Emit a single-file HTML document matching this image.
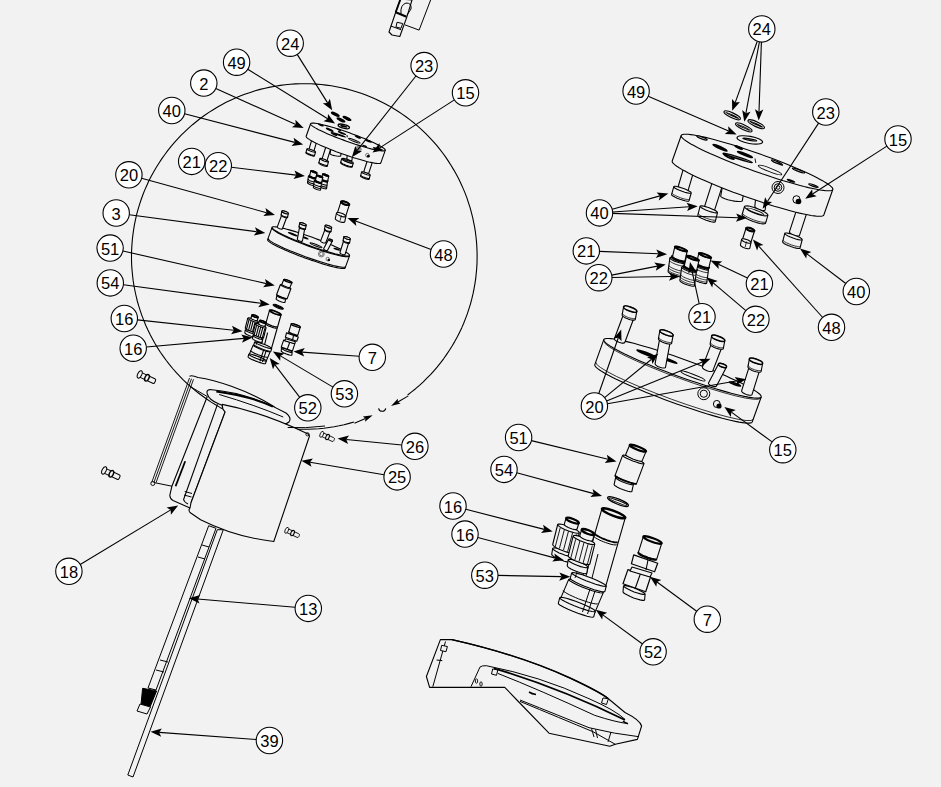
<!DOCTYPE html>
<html><head><meta charset="utf-8"><style>
html,body{margin:0;padding:0;background:#f2f2f2;}
svg{display:block;}
</style></head><body>
<svg width="941" height="787" viewBox="0 0 941 787">
<rect x="0" y="0" width="941" height="787" fill="#f2f2f2"/>
<polyline points="407.6,395 411.6,391.9 415.6,388.7 419.5,385.3 423.3,381.8 426.9,378.2 430.5,374.6 433.9,370.8 437.3,366.9 440.5,362.9 443.6,358.8 446.5,354.6 449.4,350.3 452.1,346 454.7,341.6 457.2,337.1 459.5,332.5 461.7,327.9 463.7,323.2 465.6,318.4 467.4,313.6 469,308.7 470.5,303.8 471.8,298.9 473,293.9 474,288.9 474.9,283.8 475.7,278.7 476.2,273.6 476.7,268.5 477,263.4 477.1,258.3 477.1,253.2 476.9,248 476.6,242.9 476.1,237.8 475.5,232.7 474.7,227.7 473.7,222.6 472.7,217.6 471.4,212.6 470.1,207.7 468.5,202.8 466.9,197.9 465.1,193.1 463.1,188.4 461,183.7 458.8,179.1 456.4,174.6 453.9,170.1 451.3,165.7 448.5,161.4 445.7,157.1 442.7,153 439.5,148.9 436.3,144.9 432.9,141.1 429.4,137.3 425.8,133.7 422.1,130.1 418.3,126.7 414.4,123.3 410.4,120.1 406.3,117 402.2,114.1 397.9,111.2 393.5,108.5 389.1,105.9 384.6,103.5 380,101.2 375.4,99 370.7,97 365.9,95.1 361.1,93.3 356.2,91.7 351.3,90.2 346.4,88.9 341.4,87.7 336.4,86.7 331.3,85.8 326.2,85.1 321.1,84.5 316,84.1 310.9,83.8 305.8,83.7 300.6,83.7 295.5,83.9 290.4,84.3 285.3,84.7 280.2,85.4 275.2,86.2 270.1,87.1 265.1,88.2 260.1,89.4 255.2,90.8 250.3,92.4 245.4,94 240.7,95.8 235.9,97.8 231.2,99.9 226.6,102.1 222.1,104.5 217.6,107 213.2,109.7 208.9,112.4 204.7,115.3 200.5,118.3 196.5,121.5 192.5,124.7 188.6,128.1 184.9,131.6 181.2,135.2 177.7,138.9 174.3,142.7 170.9,146.6 167.7,150.6 164.7,154.7 161.7,158.9 158.9,163.2 156.2,167.5 153.6,172 151.1,176.5 148.8,181.1 146.7,185.7 144.6,190.4 142.7,195.2 141,200 139.4,204.9 137.9,209.8 136.6,214.7 135.5,219.7 134.4,224.8 133.6,229.8 132.9,234.9 132.3,240 131.9,245.1 131.6,250.2 131.5,255.3 131.5,260.5 131.7,265.6 132.1,270.7 132.6,275.8 133.2,280.9 134,286 135,291 136.1,296 137.3,301 138.7,305.9 140.3,310.8 141.9,315.6 143.8,320.4 145.7,325.2 147.8,329.8 150.1,334.5 152.5,339 155,343.5 157.6,347.9 160.4,352.2 163.3,356.4 166.3,360.5 169.5,364.6 172.7,368.5 176.1,372.4 179.6,376.1 183.2,379.8 186.9,383.3 190.7,386.7 194.7,390.1 198.7,393.3 202.8,396.3 207,399.3 211.2,402.1 215.6,404.8 220,407.4 224.6,409.8 229.1,412.1 233.8,414.3 238.5,416.3 243.3,418.2 248.1,419.9 253,421.5 257.9,422.9 262.8,424.3 267.8,425.4 272.9,426.4 277.9,427.3 283,428 288.1,428.5 293.2,428.9 298.3,429.2 303.4,429.3 308.6,429.2 313.7,429 318.8,428.7 323.9,428.2 329,427.5 334.1,426.7 339.1,425.8 344.1,424.7 349.1,423.4 354,422" fill="none" stroke="#000" stroke-width="1.1" stroke-linejoin="round"/><line x1="408.3" y1="395.9" x2="397.9" y2="402" stroke="#000" stroke-width="1.1"/><polygon points="391,406 400.6,403.6 397.9,402 397.8,398.8" fill="#000"/><line x1="354.4" y1="423.3" x2="365.4" y2="418.5" stroke="#000" stroke-width="1.1"/><polygon points="372.7,415.3 362.9,416.5 365.4,418.5 365.1,421.7" fill="#000"/><path d="M378.6,408.3 A3.6,3.6 0 0 0 385.7,408.3" fill="none" stroke="#000" stroke-width="1.1"/>
<polygon points="400.5,-1 395.7,12.3 389,32 392,35 399.8,36.5 406.8,17.1 412,0" fill="#f2f2f2" stroke="#000" stroke-width="1.1" stroke-linejoin="round"/><line x1="395.7" y1="12.3" x2="406.5" y2="16.7" stroke="#000" stroke-width="2"/><line x1="400.5" y1="-1" x2="395.7" y2="12.3" stroke="#000" stroke-width="1.8"/><line x1="390.8" y1="26" x2="401.2" y2="29.8" stroke="#000" stroke-width="1"/><polygon points="397,22.3 402.7,23.5 401,28.3 396,27" fill="#f2f2f2" stroke="#000" stroke-width="1" stroke-linejoin="round"/><path d="M401,14 Q400,5 406,3 Q412,3 411,9 L407,15" fill="none" stroke="#000" stroke-width="1" stroke-linejoin="round"/><polyline points="405,24.9 419.1,30.1 431,-1" fill="none" stroke="#000" stroke-width="1" stroke-linejoin="round"/>
<polygon points="208.7,525.7 216,528.3 156,690 148,688" fill="#f2f2f2" stroke="#000" stroke-width="1" stroke-linejoin="round"/><polygon points="217.3,529.7 223.3,529.7 133,777 127.8,775" fill="#f2f2f2" stroke="#000" stroke-width="1" stroke-linejoin="round"/><polygon points="142.6,688.3 156.6,690.9 150,707 140.9,705.7" fill="#000" stroke="#000" stroke-width="1" stroke-linejoin="round"/><polygon points="140,704 150.5,707 147,714 137,711" fill="#f2f2f2" stroke="#000" stroke-width="1" stroke-linejoin="round"/><line x1="202" y1="545" x2="209" y2="547" stroke="#000" stroke-width="1"/><line x1="198" y1="557" x2="205" y2="559" stroke="#000" stroke-width="1"/><line x1="160" y1="660" x2="168" y2="662" stroke="#000" stroke-width="1"/><line x1="156" y1="670" x2="164" y2="672" stroke="#000" stroke-width="1"/>
<line x1="189.5" y1="378" x2="151.7" y2="482.5" stroke="#000" stroke-width="0.9"/><line x1="191.5" y1="378.7" x2="153.9" y2="482.5" stroke="#000" stroke-width="0.9"/><line x1="193.5" y1="379.3" x2="156.1" y2="482.5" stroke="#000" stroke-width="0.9"/><circle cx="152.8" cy="483.5" r="2" fill="none" stroke="#000" stroke-width="0.9"/><line x1="153.8" y1="482.5" x2="171.9" y2="486.2" stroke="#000" stroke-width="1"/><path d="M189.5,376.2 Q192,375 198,377.5 C215,380 245,389 273,406 L289,420" fill="none" stroke="#000" stroke-width="1.1" stroke-linejoin="round"/><path d="M189.5,386 Q196,390 207.3,396.5" fill="none" stroke="#000" stroke-width="1" stroke-linejoin="round"/><path d="M207.3,394 Q206,390 210,389.5 Q250,393 286,413 Q292,418 289,422 Q286,425 280,424 Q245,415 219,404 Q209,400 207.3,394 Z" fill="#f2f2f2" stroke="#000" stroke-width="1.1" stroke-linejoin="round"/><path d="M216.3,391.5 Q250,396 272.8,406.7" fill="none" stroke="#000" stroke-width="1.8" stroke-linejoin="round"/><path d="M219.2,394.5 Q255,405 283.2,417" fill="none" stroke="#000" stroke-width="1" stroke-linejoin="round"/><path d="M207.3,396.5 L171.9,486.2 L169.8,495.3 Q170,499 173,500.6 L190,508" fill="none" stroke="#000" stroke-width="1.1" stroke-linejoin="round"/><path d="M217.5,404.4 L183.6,499.5 Q184,502 188,504" fill="none" stroke="#000" stroke-width="1.1" stroke-linejoin="round"/><path d="M225.1,412 L191,502.7" fill="none" stroke="#000" stroke-width="1.1" stroke-linejoin="round"/><line x1="185.2" y1="461.3" x2="175.6" y2="486.2" stroke="#000" stroke-width="1.8"/><line x1="184.7" y1="491.5" x2="192" y2="493.5" stroke="#000" stroke-width="1"/><line x1="184" y1="495" x2="191.5" y2="497" stroke="#000" stroke-width="1"/><path d="M222.2,404.4 Q262,412 307,433.5 Q309,434 309.5,436 L273.8,541.5 Q235,537 200.6,519.7 L190,512.5 Q188,510 190,508 L191,502.7 L225.1,412 Q222,409 222.2,404.4 Z" fill="#f2f2f2" stroke="#000" stroke-width="1.1" stroke-linejoin="round"/><circle cx="307.5" cy="434.3" r="1.6" fill="none" stroke="#000" stroke-width="0.9"/><path d="M287.7,427.5 Q305,428.5 325,426" fill="none" stroke="#000" stroke-width="1" stroke-linejoin="round"/>
<g transform="translate(138.8 374) rotate(25) scale(1)"><rect x="0" y="-2.5" width="18" height="5" rx="1.5" fill="#f2f2f2" stroke="#000" stroke-width="1"/><ellipse cx="1" cy="0" rx="2" ry="4" fill="#f2f2f2" stroke="#000" stroke-width="1"/><ellipse cx="9" cy="0" rx="2" ry="3.5" fill="#f2f2f2" stroke="#000" stroke-width="1.4"/></g>
<g transform="translate(103.2 470) rotate(25) scale(1)"><rect x="0" y="-2.5" width="18" height="5" rx="1.5" fill="#f2f2f2" stroke="#000" stroke-width="1"/><ellipse cx="1" cy="0" rx="2" ry="4" fill="#f2f2f2" stroke="#000" stroke-width="1"/><ellipse cx="9" cy="0" rx="2" ry="3.5" fill="#f2f2f2" stroke="#000" stroke-width="1.4"/></g>
<g transform="translate(321 434) rotate(25) scale(0.8)"><rect x="0" y="-2.5" width="18" height="5" rx="1.5" fill="#f2f2f2" stroke="#000" stroke-width="1"/><ellipse cx="1" cy="0" rx="2" ry="4" fill="#f2f2f2" stroke="#000" stroke-width="1"/><ellipse cx="9" cy="0" rx="2" ry="3.5" fill="#f2f2f2" stroke="#000" stroke-width="1.4"/></g>
<g transform="translate(286 530) rotate(25) scale(0.8)"><rect x="0" y="-2.5" width="18" height="5" rx="1.5" fill="#f2f2f2" stroke="#000" stroke-width="1"/><ellipse cx="1" cy="0" rx="2" ry="4" fill="#f2f2f2" stroke="#000" stroke-width="1"/><ellipse cx="9" cy="0" rx="2" ry="3.5" fill="#f2f2f2" stroke="#000" stroke-width="1.4"/></g>
<polygon points="683.3,169.2 683.7,168.7 684.6,168.4 685.8,168.4 687.3,168.6 688.9,169.1 690.4,169.7 691.7,170.5 692.7,171.3 693.2,172.1 693.3,172.8 687.9,191.1 687.5,191.6 686.6,191.9 685.4,191.9 683.9,191.7 682.3,191.2 680.8,190.6 679.5,189.8 678.5,189 678,188.2 677.9,187.5" fill="#f2f2f2" stroke="#000" stroke-width="1.1" stroke-linejoin="round" /><polygon points="673.8,186.6 674.3,186.3 675.7,186.3 677.7,186.7 680.2,187.4 682.9,188.3 685.6,189.3 688,190.4 689.8,191.4 691,192.3 691.2,193 689,200.9 688.5,201.2 687.1,201.2 685.1,200.8 682.6,200.1 679.9,199.2 677.2,198.2 674.8,197.1 673,196.1 671.8,195.2 671.6,194.5" fill="#f2f2f2" stroke="#000" stroke-width="1.1" stroke-linejoin="round" /><polyline points="691.2,193 690.7,193.3 689.3,193.3 687.3,192.9 684.8,192.2 682.1,191.3 679.4,190.3 677,189.2 675.2,188.2 674,187.3 673.8,186.6" fill="none" stroke="#000" stroke-width="1.1"/><polyline points="689.5,199.3 689.2,199.5 688.7,199.6 687.8,199.6 686.6,199.4 685.2,199.2 683.7,198.8 682,198.3 680.3,197.7 678.6,197 677,196.3 675.5,195.6 674.3,195 673.2,194.4 672.5,193.8 672.1,193.3 672,193" fill="none" stroke="#000" stroke-width="0.8" stroke-linejoin="round"/><polygon points="712.3,182.2 712.7,181.7 713.6,181.4 714.9,181.4 716.3,181.6 717.9,182.1 719.4,182.7 720.7,183.5 721.7,184.3 722.2,185.1 722.3,185.8 714.5,210.3 714.1,210.8 713.2,211.1 711.9,211.1 710.5,210.9 708.9,210.4 707.4,209.8 706.1,209 705.1,208.2 704.6,207.4 704.5,206.7" fill="#f2f2f2" stroke="#000" stroke-width="1.1" stroke-linejoin="round" /><polygon points="700.1,206.2 700.6,205.9 702,205.9 704,206.3 706.5,206.9 709.2,207.8 711.9,208.9 714.3,210 716.1,211 717.2,211.9 717.5,212.6 715.2,221.8 714.7,222.1 713.3,222.1 711.3,221.7 708.8,221.1 706.1,220.2 703.4,219.1 701,218 699.2,217 698.1,216.1 697.8,215.4" fill="#f2f2f2" stroke="#000" stroke-width="1.1" stroke-linejoin="round" /><polyline points="717.5,212.6 717,212.9 715.6,212.9 713.6,212.5 711.1,211.9 708.4,211 705.7,209.9 703.3,208.8 701.5,207.8 700.4,206.9 700.1,206.2" fill="none" stroke="#000" stroke-width="1.1"/><polyline points="715.7,219.9 715.5,220.2 714.9,220.3 714,220.2 712.9,220.1 711.5,219.8 709.9,219.4 708.3,218.9 706.6,218.3 704.9,217.7 703.3,217 701.8,216.3 700.5,215.6 699.5,215 698.7,214.4 698.3,214 698.2,213.6" fill="none" stroke="#000" stroke-width="0.8" stroke-linejoin="round"/><polygon points="796.5,210.2 796.9,209.7 797.8,209.4 799.1,209.4 800.5,209.6 802.1,210.1 803.6,210.7 804.9,211.5 805.9,212.3 806.4,213.1 806.5,213.8 799.5,235.3 799.1,235.8 798.2,236.1 796.9,236.1 795.5,235.9 793.9,235.4 792.4,234.8 791.1,234 790.1,233.2 789.6,232.4 789.5,231.7" fill="#f2f2f2" stroke="#000" stroke-width="1.1" stroke-linejoin="round" /><polygon points="784.8,233.3 785.3,233 786.7,233 788.7,233.4 791.2,234 793.9,234.9 796.6,236 799,237.1 800.8,238.1 801.9,239 802.2,239.7 800,248.2 799.5,248.5 798.1,248.5 796.1,248.1 793.6,247.5 790.9,246.6 788.2,245.5 785.8,244.4 784,243.4 782.9,242.5 782.6,241.8" fill="#f2f2f2" stroke="#000" stroke-width="1.1" stroke-linejoin="round" /><polyline points="802.2,239.7 801.7,240 800.3,240 798.3,239.6 795.8,239 793.1,238.1 790.4,237 788,235.9 786.2,234.9 785.1,234 784.8,233.3" fill="none" stroke="#000" stroke-width="1.1"/><polyline points="800.5,246.5 800.2,246.7 799.7,246.8 798.8,246.8 797.6,246.6 796.3,246.3 794.7,245.9 793.1,245.4 791.3,244.9 789.6,244.2 788,243.5 786.5,242.8 785.3,242.2 784.2,241.5 783.5,241 783.1,240.5 783,240.1" fill="none" stroke="#000" stroke-width="0.8" stroke-linejoin="round"/><polygon points="722.2,187.7 722.9,187.2 724.5,187 727,187.1 730,187.4 733.3,188 736.7,188.8 739.6,189.7 741.9,190.7 743.3,191.6 743.8,192.3 742.3,200.8 741.6,201.3 740,201.5 737.5,201.4 734.5,201.1 731.2,200.5 727.8,199.7 724.9,198.8 722.6,197.8 721.2,196.9 720.7,196.2" fill="#f2f2f2" stroke="#000" stroke-width="1.1" stroke-linejoin="round" /><polygon points="755.8,197.3 756.1,196.8 756.9,196.5 758.1,196.5 759.6,196.7 761.2,197.2 762.8,197.8 764.2,198.5 765.3,199.3 766,200.1 766.2,200.7 765.2,209.7 764.9,210.2 764.1,210.5 762.9,210.5 761.4,210.3 759.8,209.8 758.2,209.2 756.8,208.5 755.7,207.7 755,206.9 754.8,206.3" fill="#f2f2f2" stroke="#000" stroke-width="1.1" stroke-linejoin="round" /><polygon points="744.5,206.5 745.3,206 747.2,205.9 749.9,206.3 753.3,207.2 756.9,208.4 760.5,209.9 763.7,211.4 766.1,213 767.6,214.3 767.9,215.3 765.5,223.3 764.7,223.8 762.8,223.9 760.1,223.5 756.7,222.6 753.1,221.4 749.5,219.9 746.3,218.4 743.9,216.8 742.4,215.5 742.1,214.5" fill="#f2f2f2" stroke="#000" stroke-width="1.1" stroke-linejoin="round" /><polyline points="767.9,215.3 767.1,215.8 765.2,215.9 762.5,215.5 759.1,214.6 755.5,213.4 751.9,211.9 748.7,210.4 746.3,208.8 744.8,207.5 744.5,206.5" fill="none" stroke="#000" stroke-width="1.1"/><polyline points="766,221.7 765.6,222.1 764.8,222.3 763.6,222.3 762,222.2 760.2,221.8 758.1,221.3 755.8,220.6 753.5,219.8 751.3,218.9 749.1,217.9 747.2,217 745.5,216 744.1,215.1 743.2,214.2 742.6,213.5 742.6,212.9" fill="none" stroke="#000" stroke-width="0.8" stroke-linejoin="round"/><ellipse cx="755.5" cy="211.5" rx="9" ry="1.3" transform="rotate(20.6 755.5 211.5)" fill="#f2f2f2" stroke="#000" stroke-width="0.9"/><polygon points="681.2,135.5 681.6,134.9 682.6,134.5 684,134.3 685.8,134.2 688.1,134.3 690.8,134.6 693.9,135 697.4,135.7 701.3,136.5 705.5,137.4 710,138.5 714.8,139.8 719.9,141.2 725.2,142.7 730.7,144.3 736.4,146.1 742.2,147.9 748.1,149.9 754,151.9 760,154 765.9,156.2 771.8,158.3 777.6,160.6 783.3,162.8 788.8,165 794.1,167.2 799.2,169.4 804,171.5 808.5,173.6 812.7,175.6 816.6,177.5 820.1,179.4 823.2,181.1 825.9,182.7 828.2,184.2 830.1,185.6 831.4,186.8 832.4,187.8 832.8,188.8 832.8,189.5 823.8,215 823.4,215.6 822.4,216 821,216.2 819.2,216.3 816.9,216.2 814.2,215.9 811.1,215.5 807.6,214.8 803.7,214 799.5,213.1 795,212 790.2,210.7 785.1,209.3 779.8,207.8 774.3,206.2 768.6,204.4 762.8,202.6 756.9,200.6 751,198.6 745,196.5 739.1,194.3 733.2,192.2 727.4,189.9 721.7,187.7 716.2,185.5 710.9,183.3 705.8,181.1 701,179 696.5,176.9 692.3,174.9 688.4,173 684.9,171.1 681.8,169.4 679.1,167.8 676.8,166.3 674.9,164.9 673.6,163.7 672.6,162.7 672.2,161.7 672.2,161" fill="#f2f2f2" stroke="#000" stroke-width="1.1" stroke-linejoin="round" /><polyline points="832.8,189.5 832.4,190.1 831.4,190.5 830,190.7 828.2,190.8 825.9,190.7 823.2,190.4 820.1,190 816.6,189.3 812.7,188.5 808.5,187.6 804,186.5 799.2,185.2 794.1,183.8 788.8,182.3 783.3,180.7 777.6,178.9 771.8,177.1 765.9,175.1 760,173.1 754,171 748.1,168.8 742.2,166.7 736.4,164.4 730.7,162.2 725.2,160 719.9,157.8 714.8,155.6 710,153.5 705.5,151.4 701.3,149.4 697.4,147.5 693.9,145.6 690.8,143.9 688.1,142.3 685.8,140.8 683.9,139.4 682.6,138.2 681.6,137.2 681.2,136.2 681.2,135.5" fill="none" stroke="#000" stroke-width="1.1"/><ellipse cx="702" cy="138" rx="5.5" ry="0.9" transform="rotate(20 702 138)" fill="#f2f2f2" stroke="#000" stroke-width="1.3"/><ellipse cx="720" cy="147.7" rx="7.5" ry="0.9" transform="rotate(25 720 147.7)" fill="#f2f2f2" stroke="#000" stroke-width="1.8"/><ellipse cx="728.6" cy="156.3" rx="6" ry="1" transform="rotate(28 728.6 156.3)" fill="#f2f2f2" stroke="#000" stroke-width="1.8"/><ellipse cx="738.6" cy="147.5" rx="4" ry="0.7" transform="rotate(25 738.6 147.5)" fill="#f2f2f2" stroke="#000" stroke-width="1.5"/><ellipse cx="745" cy="154.5" rx="8" ry="0.8" transform="rotate(22 745 154.5)" fill="#f2f2f2" stroke="#000" stroke-width="1.7"/><ellipse cx="739" cy="158.2" rx="14" ry="0.9" transform="rotate(18 739 158.2)" fill="#f2f2f2" stroke="#000" stroke-width="1.5"/><ellipse cx="777" cy="162.4" rx="6" ry="0.9" transform="rotate(24 777 162.4)" fill="#f2f2f2" stroke="#000" stroke-width="1.4"/><ellipse cx="770" cy="170" rx="12.5" ry="1.8" transform="rotate(21 770 170)" fill="#f2f2f2" stroke="#000" stroke-width="0.9"/><ellipse cx="798.5" cy="170.5" rx="6.5" ry="0.9" transform="rotate(20 798.5 170.5)" fill="#f2f2f2" stroke="#000" stroke-width="1.3"/><ellipse cx="791" cy="180.8" rx="4" ry="0.6" transform="rotate(20 791 180.8)" fill="#f2f2f2" stroke="#000" stroke-width="1.2"/><ellipse cx="813.4" cy="185.6" rx="5" ry="0.8" transform="rotate(20 813.4 185.6)" fill="#f2f2f2" stroke="#000" stroke-width="1.2"/><line x1="755" y1="158.5" x2="755.8" y2="163" stroke="#000" stroke-width="0.9"/><circle cx="778" cy="187.5" r="6" fill="none" stroke="#000" stroke-width="1"/><circle cx="778" cy="187.5" r="3.8" fill="none" stroke="#000" stroke-width="1"/><circle cx="778" cy="187.5" r="1.8" fill="none" stroke="#000" stroke-width="0.9"/><ellipse cx="796.5" cy="199.5" rx="3.6" ry="3.8" fill="none" stroke="#000" stroke-width="1"/><circle cx="798.5" cy="201.5" r="2.8" fill="#000"/>
<ellipse cx="732.2" cy="115.3" rx="9" ry="2.4" transform="rotate(25 732.2 115.3)" fill="#f2f2f2" stroke="#000" stroke-width="1.2"/><ellipse cx="732.2" cy="115.3" rx="7.2" ry="0.5" transform="rotate(25 732.2 115.3)" fill="#f2f2f2" stroke="#000" stroke-width="0.9"/><ellipse cx="743.8" cy="127.4" rx="9" ry="2.4" transform="rotate(25 743.8 127.4)" fill="#f2f2f2" stroke="#000" stroke-width="1.2"/><ellipse cx="743.8" cy="127.4" rx="7.2" ry="0.5" transform="rotate(25 743.8 127.4)" fill="#f2f2f2" stroke="#000" stroke-width="0.9"/><ellipse cx="756.2" cy="124.2" rx="9" ry="2.4" transform="rotate(25 756.2 124.2)" fill="#f2f2f2" stroke="#000" stroke-width="1.2"/><ellipse cx="756.2" cy="124.2" rx="7.2" ry="0.5" transform="rotate(25 756.2 124.2)" fill="#f2f2f2" stroke="#000" stroke-width="0.9"/><ellipse cx="749.8" cy="139.9" rx="13" ry="3.6" transform="rotate(10 749.8 139.9)" fill="#f2f2f2" stroke="#000" stroke-width="1.1"/><ellipse cx="749.8" cy="139.6" rx="7" ry="0.7" transform="rotate(10 749.8 139.6)" fill="#f2f2f2" stroke="#000" stroke-width="1.3"/>
<polygon points="669.9,257.9 670.3,257.5 671.4,257.4 673.1,257.7 675.1,258.2 677.4,258.9 679.7,259.8 681.7,260.7 683.3,261.6 684.3,262.5 684.5,263.1 682.7,276.6 682.3,277 681.2,277.1 679.5,276.8 677.5,276.3 675.2,275.6 672.9,274.7 670.9,273.8 669.3,272.9 668.3,272 668.1,271.4" fill="#f2f2f2" stroke="#000" stroke-width="1.1" stroke-linejoin="round" /><polyline points="684.5,263.1 684.1,263.5 683,263.6 681.3,263.3 679.3,262.8 677,262.1 674.7,261.2 672.7,260.3 671.1,259.4 670.1,258.5 669.9,257.9" fill="none" stroke="#000" stroke-width="1.1"/><polyline points="684.2,265.6 684,265.9 683.6,266 682.9,266.1 681.9,266 680.8,265.8 679.5,265.5 678.1,265.1 676.7,264.6 675.2,264.1 673.9,263.5 672.6,262.9 671.5,262.3 670.6,261.7 670,261.2 669.6,260.8 669.5,260.4" fill="none" stroke="#000" stroke-width="0.8" stroke-linejoin="round"/><polyline points="683.5,270.6 683.4,270.9 682.9,271 682.2,271.1 681.2,271 680.1,270.8 678.8,270.5 677.4,270.1 676,269.6 674.6,269.1 673.2,268.5 671.9,267.9 670.9,267.3 670,266.7 669.3,266.2 669,265.8 668.9,265.4" fill="none" stroke="#000" stroke-width="0.8" stroke-linejoin="round"/><polyline points="683.2,272.9 683.1,273.2 682.6,273.3 681.9,273.4 680.9,273.3 679.8,273.1 678.5,272.8 677.1,272.4 675.7,271.9 674.2,271.4 672.9,270.8 671.6,270.2 670.5,269.6 669.7,269 669,268.5 668.6,268.1 668.5,267.7" fill="none" stroke="#000" stroke-width="0.8" stroke-linejoin="round"/><polyline points="682.9,275.1 682.8,275.4 682.3,275.5 681.6,275.6 680.6,275.5 679.5,275.3 678.2,275 676.8,274.6 675.4,274.1 674,273.6 672.6,273 671.3,272.4 670.3,271.8 669.4,271.2 668.7,270.7 668.4,270.3 668.3,269.9" fill="none" stroke="#000" stroke-width="0.8" stroke-linejoin="round"/><polygon points="671.6,255.8 672.1,255.5 673.3,255.5 674.9,255.8 676.9,256.3 679.1,257 681.2,257.8 683.1,258.7 684.5,259.6 685.4,260.3 685.6,260.8 685,262.4 684.5,262.7 683.3,262.7 681.7,262.4 679.7,261.9 677.5,261.2 675.4,260.4 673.5,259.5 672.1,258.6 671.2,257.9 671,257.4" fill="#000" stroke="#000" stroke-width="1" stroke-linejoin="round" /><polyline points="685.6,260.8 685.1,261.1 683.9,261.1 682.3,260.8 680.3,260.3 678.1,259.6 676,258.8 674.1,257.9 672.7,257 671.8,256.3 671.6,255.8" fill="none" stroke="#000" stroke-width="1"/><polygon points="674.8,246.8 675.2,246.5 676.1,246.4 677.6,246.7 679.4,247.1 681.3,247.7 683.2,248.5 684.9,249.3 686.2,250.1 687,250.7 687.2,251.2 685,260.7 684.6,261 683.7,261.1 682.2,260.8 680.4,260.4 678.5,259.8 676.6,259 674.9,258.2 673.6,257.4 672.8,256.8 672.6,256.3" fill="#f2f2f2" stroke="#000" stroke-width="1.1" stroke-linejoin="round" /><polyline points="687.2,251.2 686.8,251.5 685.9,251.6 684.4,251.3 682.6,250.9 680.7,250.3 678.8,249.5 677.1,248.7 675.8,247.9 675,247.3 674.8,246.8" fill="none" stroke="#000" stroke-width="1.1"/><ellipse cx="681" cy="249" rx="6.6" ry="1.1" transform="rotate(20 681 249)" fill="#f2f2f2" stroke="#000" stroke-width="1.9"/><polygon points="693.9,264.4 694.3,264 695.4,263.9 697.1,264.2 699.1,264.7 701.4,265.4 703.7,266.3 705.7,267.2 707.3,268.1 708.3,269 708.5,269.6 706.7,283.1 706.3,283.5 705.2,283.6 703.5,283.3 701.5,282.8 699.2,282.1 696.9,281.2 694.9,280.3 693.3,279.4 692.3,278.5 692.1,277.9" fill="#f2f2f2" stroke="#000" stroke-width="1.1" stroke-linejoin="round" /><polyline points="708.5,269.6 708.1,270 707,270.1 705.3,269.8 703.3,269.3 701,268.6 698.7,267.7 696.7,266.8 695.1,265.9 694.1,265 693.9,264.4" fill="none" stroke="#000" stroke-width="1.1"/><polyline points="708.2,272.1 708,272.4 707.6,272.5 706.9,272.6 705.9,272.5 704.8,272.3 703.5,272 702.1,271.6 700.7,271.1 699.2,270.6 697.9,270 696.6,269.4 695.5,268.8 694.6,268.2 694,267.7 693.6,267.3 693.5,266.9" fill="none" stroke="#000" stroke-width="0.8" stroke-linejoin="round"/><polyline points="707.5,277.1 707.4,277.4 706.9,277.5 706.2,277.6 705.2,277.5 704.1,277.3 702.8,277 701.4,276.6 700,276.1 698.6,275.6 697.2,275 695.9,274.4 694.9,273.8 694,273.2 693.3,272.7 693,272.3 692.9,271.9" fill="none" stroke="#000" stroke-width="0.8" stroke-linejoin="round"/><polyline points="707.2,279.4 707.1,279.7 706.6,279.8 705.9,279.9 704.9,279.8 703.8,279.6 702.5,279.3 701.1,278.9 699.7,278.4 698.2,277.9 696.9,277.3 695.6,276.7 694.5,276.1 693.7,275.5 693,275 692.6,274.6 692.5,274.2" fill="none" stroke="#000" stroke-width="0.8" stroke-linejoin="round"/><polyline points="706.9,281.6 706.8,281.9 706.3,282 705.6,282.1 704.6,282 703.5,281.8 702.2,281.5 700.8,281.1 699.4,280.6 698,280.1 696.6,279.5 695.3,278.9 694.3,278.3 693.4,277.7 692.7,277.2 692.4,276.8 692.3,276.4" fill="none" stroke="#000" stroke-width="0.8" stroke-linejoin="round"/><polygon points="695.6,262.3 696.1,262 697.3,262 698.9,262.3 700.9,262.8 703.1,263.5 705.2,264.3 707.1,265.2 708.5,266.1 709.4,266.8 709.6,267.3 709,268.9 708.5,269.2 707.3,269.2 705.7,268.9 703.7,268.4 701.5,267.7 699.4,266.9 697.5,266 696.1,265.1 695.2,264.4 695,263.9" fill="#000" stroke="#000" stroke-width="1" stroke-linejoin="round" /><polyline points="709.6,267.3 709.1,267.6 707.9,267.6 706.3,267.3 704.3,266.8 702.1,266.1 700,265.3 698.1,264.4 696.7,263.5 695.8,262.8 695.6,262.3" fill="none" stroke="#000" stroke-width="1"/><polygon points="698.8,253.3 699.2,253 700.1,252.9 701.6,253.2 703.4,253.6 705.3,254.2 707.2,255 708.9,255.8 710.2,256.6 711,257.2 711.2,257.7 709,267.2 708.6,267.5 707.7,267.6 706.2,267.3 704.4,266.9 702.5,266.3 700.6,265.5 698.9,264.7 697.6,263.9 696.8,263.3 696.6,262.8" fill="#f2f2f2" stroke="#000" stroke-width="1.1" stroke-linejoin="round" /><polyline points="711.2,257.7 710.8,258 709.9,258.1 708.4,257.8 706.6,257.4 704.7,256.8 702.8,256 701.1,255.2 699.8,254.4 699,253.8 698.8,253.3" fill="none" stroke="#000" stroke-width="1.1"/><ellipse cx="705" cy="255.5" rx="6.6" ry="1.1" transform="rotate(20 705 255.5)" fill="#f2f2f2" stroke="#000" stroke-width="1.9"/><polygon points="681.7,267.1 682.1,266.7 683.2,266.6 684.9,266.9 686.9,267.4 689.2,268.1 691.5,269 693.5,269.9 695.1,270.8 696.1,271.7 696.3,272.3 694.5,285.8 694.1,286.2 693,286.3 691.3,286 689.3,285.5 687,284.8 684.7,283.9 682.7,283 681.1,282.1 680.1,281.2 679.9,280.6" fill="#f2f2f2" stroke="#000" stroke-width="1.1" stroke-linejoin="round" /><polyline points="696.3,272.3 695.9,272.7 694.8,272.8 693.1,272.5 691.1,272 688.8,271.3 686.5,270.4 684.5,269.5 682.9,268.6 681.9,267.7 681.7,267.1" fill="none" stroke="#000" stroke-width="1.1"/><polyline points="696,274.8 695.8,275.1 695.4,275.2 694.7,275.3 693.7,275.2 692.6,275 691.3,274.7 689.9,274.3 688.5,273.8 687,273.3 685.7,272.7 684.4,272.1 683.3,271.5 682.4,270.9 681.8,270.4 681.4,270 681.3,269.6" fill="none" stroke="#000" stroke-width="0.8" stroke-linejoin="round"/><polyline points="695.3,279.8 695.2,280.1 694.7,280.2 694,280.3 693,280.2 691.9,280 690.6,279.7 689.2,279.3 687.8,278.8 686.4,278.3 685,277.7 683.7,277.1 682.7,276.5 681.8,275.9 681.1,275.4 680.8,275 680.7,274.6" fill="none" stroke="#000" stroke-width="0.8" stroke-linejoin="round"/><polyline points="695,282.1 694.9,282.4 694.4,282.5 693.7,282.6 692.7,282.5 691.6,282.3 690.3,282 688.9,281.6 687.5,281.1 686,280.6 684.7,280 683.4,279.4 682.3,278.8 681.5,278.2 680.8,277.7 680.4,277.3 680.3,276.9" fill="none" stroke="#000" stroke-width="0.8" stroke-linejoin="round"/><polyline points="694.7,284.3 694.6,284.6 694.1,284.7 693.4,284.8 692.4,284.7 691.3,284.5 690,284.2 688.6,283.8 687.2,283.3 685.8,282.8 684.4,282.2 683.1,281.6 682.1,281 681.2,280.4 680.5,279.9 680.2,279.5 680.1,279.1" fill="none" stroke="#000" stroke-width="0.8" stroke-linejoin="round"/><polygon points="683.4,265 683.9,264.7 685.1,264.7 686.7,265 688.7,265.5 690.9,266.2 693,267 694.9,267.9 696.3,268.8 697.2,269.5 697.4,270 696.8,271.6 696.3,271.9 695.1,271.9 693.5,271.6 691.5,271.1 689.3,270.4 687.2,269.6 685.3,268.7 683.9,267.8 683,267.1 682.8,266.6" fill="#000" stroke="#000" stroke-width="1" stroke-linejoin="round" /><polyline points="697.4,270 696.9,270.3 695.7,270.3 694.1,270 692.1,269.5 689.9,268.8 687.8,268 685.9,267.1 684.5,266.2 683.6,265.5 683.4,265" fill="none" stroke="#000" stroke-width="1"/><polygon points="686.6,256 687,255.7 687.9,255.6 689.4,255.9 691.2,256.3 693.1,256.9 695,257.7 696.7,258.5 698,259.3 698.8,259.9 699,260.4 696.8,269.9 696.4,270.2 695.5,270.3 694,270 692.2,269.6 690.3,269 688.4,268.2 686.7,267.4 685.4,266.6 684.6,266 684.4,265.5" fill="#f2f2f2" stroke="#000" stroke-width="1.1" stroke-linejoin="round" /><polyline points="699,260.4 698.6,260.7 697.7,260.8 696.2,260.5 694.4,260.1 692.5,259.5 690.6,258.7 688.9,257.9 687.6,257.1 686.8,256.5 686.6,256" fill="none" stroke="#000" stroke-width="1.1"/><ellipse cx="692.8" cy="258.2" rx="6.6" ry="1.1" transform="rotate(20 692.8 258.2)" fill="#f2f2f2" stroke="#000" stroke-width="1.9"/>
<polygon points="603.8,339.6 604.2,339.1 605.2,338.7 606.6,338.5 608.5,338.5 610.9,338.6 613.7,339 616.9,339.5 620.6,340.2 624.6,341.1 628.9,342.1 633.7,343.3 638.7,344.7 643.9,346.2 649.4,347.8 655.1,349.6 661,351.5 667,353.5 673.2,355.5 679.3,357.7 685.5,359.9 691.7,362.2 697.8,364.5 703.8,366.8 709.7,369.2 715.4,371.5 720.9,373.8 726.2,376.1 731.2,378.4 735.9,380.5 740.3,382.6 744.3,384.7 748,386.6 751.2,388.4 754,390 756.4,391.6 758.3,393 759.8,394.2 760.7,395.3 761.2,396.2 761.2,397 752.2,422 751.8,422.5 750.8,422.9 749.4,423.1 747.5,423.1 745.1,423 742.3,422.6 739.1,422.1 735.4,421.4 731.4,420.5 727.1,419.5 722.3,418.3 717.3,416.9 712.1,415.4 706.6,413.8 700.9,412 695,410.1 689,408.1 682.8,406.1 676.7,403.9 670.5,401.7 664.3,399.4 658.2,397.1 652.2,394.8 646.3,392.4 640.6,390.1 635.1,387.8 629.8,385.5 624.8,383.2 620.1,381.1 615.7,379 611.7,376.9 608,375 604.8,373.2 602,371.6 599.6,370 597.7,368.6 596.2,367.4 595.3,366.3 594.8,365.4 594.8,364.6" fill="#f2f2f2" stroke="#000" stroke-width="1.1" stroke-linejoin="round" /><polyline points="761.2,397 760.8,397.5 759.8,397.9 758.4,398.1 756.5,398.1 754.1,398 751.3,397.6 748.1,397.1 744.4,396.4 740.4,395.5 736.1,394.5 731.3,393.3 726.3,391.9 721.1,390.4 715.6,388.8 709.9,387 704,385.1 698,383.1 691.8,381.1 685.7,378.9 679.5,376.7 673.3,374.4 667.2,372.1 661.2,369.8 655.3,367.4 649.6,365.1 644.1,362.8 638.8,360.5 633.8,358.2 629.1,356.1 624.7,354 620.7,351.9 617,350 613.8,348.2 611,346.6 608.6,345 606.7,343.6 605.2,342.4 604.3,341.3 603.8,340.4 603.8,339.6" fill="none" stroke="#000" stroke-width="1.1"/><polyline points="753.1,419.5 751,420.5 746,420.5 738.2,419.3 728,417 715.6,413.7 701.8,409.5 686.8,404.6 671.4,399.2 656.1,393.4 641.5,387.6 628.1,381.8 616.6,376.5 607.2,371.6 600.5,367.5 596.6,364.3 595.7,362.1" fill="none" stroke="#000" stroke-width="0.8" stroke-linejoin="round"/><polyline points="760.3,398.2 758.2,399.3 753.2,399.2 745.5,398.1 735.3,395.8 723.1,392.5 709.4,388.4 694.6,383.6 679.3,378.2 664.1,372.5 649.7,366.7 636.5,361 625,355.7 615.8,350.9 609.1,346.8 605.2,343.6 604.3,341.4" fill="none" stroke="#000" stroke-width="0.8" stroke-linejoin="round"/><ellipse cx="646" cy="353.5" rx="9.5" ry="0.8" transform="rotate(21 646 353.5)" fill="#f2f2f2" stroke="#000" stroke-width="2"/><ellipse cx="668.5" cy="360" rx="9" ry="0.8" transform="rotate(21 668.5 360)" fill="#f2f2f2" stroke="#000" stroke-width="1.6"/><ellipse cx="693" cy="376" rx="13" ry="1.6" transform="rotate(21 693 376)" fill="#f2f2f2" stroke="#000" stroke-width="1"/><ellipse cx="735" cy="384" rx="6" ry="0.8" transform="rotate(20 735 384)" fill="#f2f2f2" stroke="#000" stroke-width="1.4"/><polygon points="623.5,314.2 624,313.8 624.9,313.6 626.2,313.6 627.7,313.9 629.3,314.4 630.9,315.1 632.2,315.8 633.2,316.6 633.8,317.4 633.9,318 624.8,342.5 624.3,342.9 623.4,343.1 622.1,343.1 620.6,342.8 619,342.3 617.4,341.6 616.1,340.9 615.1,340.1 614.5,339.3 614.4,338.7" fill="#f2f2f2" stroke="#000" stroke-width="1.1" stroke-linejoin="round" /><polygon points="623.6,306.8 624,306.3 625.1,306.1 626.6,306.1 628.5,306.5 630.6,307.1 632.6,307.9 634.4,308.8 635.8,309.8 636.6,310.7 636.8,311.4 635.3,319.4 634.9,319.9 633.8,320.1 632.3,320.1 630.4,319.7 628.3,319.1 626.3,318.3 624.5,317.4 623.1,316.4 622.3,315.5 622.1,314.8" fill="#f2f2f2" stroke="#000" stroke-width="1.1" stroke-linejoin="round" /><polyline points="636.8,311.4 636.4,311.9 635.3,312.1 633.8,312.1 631.9,311.7 629.8,311.1 627.8,310.3 626,309.4 624.6,308.4 623.8,307.5 623.6,306.8" fill="none" stroke="#000" stroke-width="1.1"/><ellipse cx="630.2" cy="309.1" rx="7" ry="2" transform="rotate(20 630.2 309.1)" fill="#f2f2f2" stroke="#000" stroke-width="1.5"/><polyline points="635.6,317.9 635.4,318.2 635,318.5 634.3,318.6 633.4,318.6 632.4,318.5 631.2,318.3 629.9,318 628.6,317.6 627.3,317.1 626.1,316.6 625,316 624.1,315.4 623.3,314.8 622.8,314.2 622.5,313.7 622.4,313.3" fill="none" stroke="#000" stroke-width="0.8" stroke-linejoin="round"/><polygon points="659.8,338.2 660.2,337.7 661,337.5 662.2,337.5 663.7,337.7 665.3,338.2 666.9,338.8 668.3,339.6 669.4,340.4 670,341.1 670.2,341.8 665.5,367.3 665.1,367.8 664.3,368 663.1,368 661.6,367.8 660,367.3 658.4,366.7 657,365.9 655.9,365.1 655.3,364.4 655.1,363.7" fill="#f2f2f2" stroke="#000" stroke-width="1.1" stroke-linejoin="round" /><polygon points="659.9,330.7 660.3,330.2 661.4,330 662.9,330 664.8,330.4 666.9,331 668.9,331.8 670.7,332.7 672.1,333.7 672.9,334.6 673.1,335.3 671.6,343.3 671.2,343.8 670.1,344 668.6,344 666.7,343.6 664.6,343 662.6,342.2 660.8,341.3 659.4,340.3 658.6,339.4 658.4,338.7" fill="#f2f2f2" stroke="#000" stroke-width="1.1" stroke-linejoin="round" /><polyline points="673.1,335.3 672.7,335.8 671.6,336 670.1,336 668.2,335.6 666.1,335 664.1,334.2 662.3,333.3 660.9,332.3 660.1,331.4 659.9,330.7" fill="none" stroke="#000" stroke-width="1.1"/><ellipse cx="666.5" cy="333" rx="7" ry="2" transform="rotate(20 666.5 333)" fill="#f2f2f2" stroke="#000" stroke-width="1.5"/><polyline points="671.9,341.8 671.7,342.1 671.3,342.4 670.6,342.5 669.7,342.5 668.7,342.4 667.5,342.2 666.2,341.9 664.9,341.5 663.6,341 662.4,340.5 661.3,339.9 660.4,339.3 659.6,338.7 659.1,338.1 658.8,337.6 658.7,337.2" fill="none" stroke="#000" stroke-width="0.8" stroke-linejoin="round"/><polygon points="711.5,343.4 712,343 712.9,342.8 714.2,342.8 715.7,343.1 717.3,343.6 718.9,344.3 720.3,345.1 721.3,345.8 721.8,346.6 721.9,347.2 712.8,370.9 712.3,371.3 711.4,371.5 710.1,371.5 708.6,371.2 707,370.7 705.4,370 704,369.2 703,368.5 702.5,367.7 702.4,367.1" fill="#f2f2f2" stroke="#000" stroke-width="1.1" stroke-linejoin="round" /><polygon points="711.6,336 712,335.5 713.1,335.3 714.6,335.3 716.5,335.7 718.6,336.3 720.6,337.1 722.4,338 723.8,339 724.6,339.9 724.8,340.6 723.3,348.6 722.9,349.1 721.8,349.3 720.3,349.3 718.4,348.9 716.3,348.3 714.3,347.5 712.5,346.6 711.1,345.6 710.3,344.7 710.1,344" fill="#f2f2f2" stroke="#000" stroke-width="1.1" stroke-linejoin="round" /><polyline points="724.8,340.6 724.4,341.1 723.3,341.3 721.8,341.3 719.9,340.9 717.8,340.3 715.8,339.5 714,338.6 712.6,337.6 711.8,336.7 711.6,336" fill="none" stroke="#000" stroke-width="1.1"/><ellipse cx="718.2" cy="338.3" rx="7" ry="2" transform="rotate(20 718.2 338.3)" fill="#f2f2f2" stroke="#000" stroke-width="1.5"/><polyline points="723.6,347.1 723.4,347.4 723,347.7 722.3,347.8 721.4,347.8 720.4,347.7 719.2,347.5 717.9,347.2 716.6,346.8 715.3,346.3 714.1,345.8 713,345.2 712.1,344.6 711.3,344 710.8,343.4 710.5,342.9 710.4,342.5" fill="none" stroke="#000" stroke-width="0.8" stroke-linejoin="round"/><polygon points="749.3,366.3 749.7,365.9 750.6,365.7 751.9,365.7 753.4,366 755,366.5 756.6,367.1 758,367.9 759,368.7 759.6,369.4 759.7,370.1 752,394.6 751.6,395 750.7,395.2 749.4,395.2 747.9,394.9 746.3,394.4 744.7,393.8 743.3,393 742.3,392.2 741.7,391.5 741.6,390.8" fill="#f2f2f2" stroke="#000" stroke-width="1.1" stroke-linejoin="round" /><polygon points="749.4,358.9 749.8,358.4 750.9,358.2 752.4,358.2 754.3,358.6 756.4,359.2 758.4,360 760.2,360.9 761.6,361.9 762.4,362.8 762.6,363.5 761.1,371.5 760.7,372 759.6,372.2 758.1,372.2 756.2,371.8 754.1,371.2 752.1,370.4 750.3,369.5 748.9,368.5 748.1,367.6 747.9,366.9" fill="#f2f2f2" stroke="#000" stroke-width="1.1" stroke-linejoin="round" /><polyline points="762.6,363.5 762.2,364 761.1,364.2 759.6,364.2 757.7,363.8 755.6,363.2 753.6,362.4 751.8,361.5 750.4,360.5 749.6,359.6 749.4,358.9" fill="none" stroke="#000" stroke-width="1.1"/><ellipse cx="756" cy="361.2" rx="7" ry="2" transform="rotate(20 756 361.2)" fill="#f2f2f2" stroke="#000" stroke-width="1.5"/><polyline points="761.4,370 761.2,370.3 760.8,370.6 760.1,370.7 759.2,370.7 758.2,370.6 757,370.4 755.7,370.1 754.4,369.7 753.1,369.2 751.9,368.7 750.8,368.1 749.9,367.5 749.1,366.9 748.6,366.3 748.3,365.8 748.2,365.4" fill="none" stroke="#000" stroke-width="0.8" stroke-linejoin="round"/><polygon points="718.5,364 718.9,363.6 719.7,363.4 720.8,363.4 722,363.7 723.3,364.1 724.5,364.6 725.5,365.3 726.2,365.9 726.5,366.5 726.5,367 716.5,386 716.1,386.4 715.3,386.6 714.2,386.6 713,386.3 711.7,385.9 710.5,385.4 709.5,384.7 708.8,384.1 708.5,383.5 708.5,383" fill="#f2f2f2" stroke="#000" stroke-width="1.1" stroke-linejoin="round" /><polyline points="726.5,367 726.1,367.4 725.3,367.6 724.2,367.6 723,367.3 721.7,366.9 720.5,366.4 719.5,365.7 718.8,365.1 718.5,364.5 718.5,364" fill="none" stroke="#000" stroke-width="1.1"/><ellipse cx="722.5" cy="365.5" rx="4.3" ry="1.6" transform="rotate(20 722.5 365.5)" fill="#f2f2f2" stroke="#000" stroke-width="1.4"/><circle cx="703.8" cy="393.7" r="6" fill="none" stroke="#000" stroke-width="1"/><circle cx="703.8" cy="393.7" r="3.6" fill="none" stroke="#000" stroke-width="1"/><ellipse cx="716.8" cy="404" rx="3.4" ry="3.6" fill="none" stroke="#000" stroke-width="1"/><circle cx="719" cy="406" r="2.6" fill="#000"/>
<polygon points="746.1,228 746.4,227.5 747.2,227.3 748.3,227.2 749.5,227.4 750.8,227.8 752.1,228.3 753.2,229 754,229.7 754.5,230.4 754.5,231 751,242 750.7,242.5 749.9,242.7 748.8,242.8 747.6,242.6 746.3,242.2 745,241.7 743.9,241 743.1,240.3 742.6,239.6 742.6,239" fill="#f2f2f2" stroke="#000" stroke-width="1.1" stroke-linejoin="round" /><polyline points="754.5,231 754.2,231.5 753.4,231.7 752.3,231.8 751.1,231.6 749.8,231.2 748.5,230.7 747.4,230 746.6,229.3 746.1,228.6 746.1,228" fill="none" stroke="#000" stroke-width="1.1"/><ellipse cx="750.3" cy="229.5" rx="4.5" ry="1.2" transform="rotate(20 750.3 229.5)" fill="#f2f2f2" stroke="#000" stroke-width="1.8"/><polygon points="741.6,239.3 741.9,239 742.7,238.8 743.8,238.8 745.1,239.1 746.6,239.5 748.1,240.1 749.3,240.8 750.3,241.5 750.9,242.1 751,242.7 749.8,248.2 749.5,248.5 748.7,248.7 747.6,248.7 746.3,248.4 744.8,248 743.3,247.4 742.1,246.7 741.1,246 740.5,245.4 740.4,244.8" fill="#f2f2f2" stroke="#000" stroke-width="1.1" stroke-linejoin="round" /><polyline points="751,242.7 750.7,243 749.9,243.2 748.8,243.2 747.5,242.9 746,242.5 744.5,241.9 743.3,241.2 742.3,240.5 741.7,239.9 741.6,239.3" fill="none" stroke="#000" stroke-width="1.1"/><line x1="746.5" y1="241.5" x2="745.2" y2="247" stroke="#000" stroke-width="0.8"/>
<polygon points="615.6,477.6 616.2,477.3 617.5,477.4 619.5,477.8 622.1,478.5 624.8,479.5 627.5,480.6 630,481.8 631.9,482.9 633,483.7 633.4,484.4 631.9,491.4 631.3,491.7 630,491.6 628,491.2 625.4,490.5 622.7,489.5 620,488.4 617.5,487.2 615.6,486.1 614.5,485.3 614.1,484.6" fill="#f2f2f2" stroke="#000" stroke-width="1.1" stroke-linejoin="round" /><polyline points="633.4,484.4 632.8,484.7 631.5,484.6 629.5,484.2 626.9,483.5 624.2,482.5 621.5,481.4 619,480.2 617.1,479.1 616,478.3 615.6,477.6" fill="none" stroke="#000" stroke-width="1.1"/><polygon points="622.6,455.4 623.3,455.1 624.9,455.3 627.4,455.9 630.5,456.9 633.8,458.1 637.1,459.4 640,460.8 642.3,462 643.7,463 644,463.6 636.5,483.6 635.8,483.9 634.2,483.7 631.7,483.1 628.6,482.1 625.3,480.9 622,479.6 619.1,478.2 616.8,477 615.4,476 615.1,475.4" fill="#f2f2f2" stroke="#000" stroke-width="1.1" stroke-linejoin="round" /><polyline points="644,463.6 643.3,463.9 641.7,463.7 639.2,463.1 636.1,462.1 632.8,460.9 629.5,459.6 626.6,458.2 624.3,457 622.9,456 622.6,455.4" fill="none" stroke="#000" stroke-width="1.1"/><polyline points="636.5,483.6 636.2,483.8 635.5,483.8 634.4,483.7 633,483.4 631.3,483 629.4,482.4 627.4,481.7 625.3,480.9 623.2,480.1 621.2,479.2 619.4,478.4 617.8,477.6 616.6,476.9 615.7,476.2 615.2,475.7 615.1,475.4" fill="none" stroke="#000" stroke-width="1.8" stroke-linejoin="round"/><polygon points="629.7,445 630.3,444.7 631.6,444.8 633.6,445.1 636,445.8 638.5,446.7 641,447.8 643.2,448.9 644.9,449.9 645.9,450.8 646.1,451.4 642.1,460.9 641.5,461.2 640.2,461.1 638.2,460.8 635.8,460.1 633.3,459.2 630.8,458.1 628.6,457 626.9,456 625.9,455.1 625.7,454.5" fill="#f2f2f2" stroke="#000" stroke-width="1.1" stroke-linejoin="round" /><ellipse cx="637.9" cy="448.2" rx="8.8" ry="1.6" transform="rotate(21 637.9 448.2)" fill="#f2f2f2" stroke="#000" stroke-width="2.2"/>
<ellipse cx="618" cy="501.6" rx="11.2" ry="2.6" transform="rotate(22 618 501.6)" fill="#f2f2f2" stroke="#000" stroke-width="1.3"/><ellipse cx="618" cy="501.6" rx="9.5" ry="1.1" transform="rotate(22 618 501.6)" fill="#f2f2f2" stroke="#000" stroke-width="1"/>
<polygon points="601.9,508.9 602.7,508.4 604.5,508.3 607.3,508.8 610.6,509.7 614.3,511 617.8,512.5 621,514 623.4,515.5 624.9,516.8 625.3,517.7 605.3,587.7 604.5,588.2 602.7,588.3 599.9,587.8 596.6,586.9 592.9,585.6 589.4,584.1 586.2,582.6 583.8,581.1 582.3,579.8 581.9,578.9" fill="#f2f2f2" stroke="#000" stroke-width="1.1" stroke-linejoin="round" /><polyline points="625.3,517.7 624.5,518.2 622.7,518.3 619.9,517.8 616.6,516.9 612.9,515.6 609.4,514.1 606.2,512.6 603.8,511.1 602.3,509.8 601.9,508.9" fill="none" stroke="#000" stroke-width="1.1"/><ellipse cx="613.6" cy="513.3" rx="12.5" ry="2.4" transform="rotate(21 613.6 513.3)" fill="#f2f2f2" stroke="#000" stroke-width="2.4"/><polyline points="617.6,542.1 617,542.4 616,542.4 614.7,542.3 613,542 611,541.5 608.9,540.8 606.6,540.1 604.3,539.2 602.1,538.3 600,537.3 598.2,536.3 596.6,535.4 595.4,534.6 594.7,533.9 594.3,533.3 594.4,532.9" fill="none" stroke="#000" stroke-width="1.8" stroke-linejoin="round"/><polyline points="616.6,544.6 616,544.9 615,544.9 613.7,544.8 612,544.5 610,544 607.9,543.3 605.6,542.6 603.3,541.7 601.1,540.8 599,539.8 597.2,538.8 595.6,537.9 594.4,537.1 593.7,536.4 593.3,535.8 593.4,535.4" fill="none" stroke="#000" stroke-width="1" stroke-linejoin="round"/><polygon points="568.7,579.4 569.7,579 572,579.2 575.4,580 579.7,581.2 584.5,582.9 589.4,584.8 594,586.7 598,588.7 601,590.4 602.8,591.7 603.3,592.6 594.8,612.6 593.8,613 591.5,612.8 588.1,612 583.8,610.8 579,609.1 574.1,607.2 569.5,605.3 565.5,603.3 562.5,601.6 560.7,600.3 560.2,599.4" fill="#f2f2f2" stroke="#000" stroke-width="1.1" stroke-linejoin="round" /><polyline points="603.3,592.6 602.3,593 600,592.8 596.6,592 592.3,590.8 587.5,589.1 582.6,587.2 578,585.3 574,583.3 571,581.6 569.2,580.3 568.7,579.4" fill="none" stroke="#000" stroke-width="1.1"/><polygon points="559.8,597.7 560.7,597.3 562.9,597.5 566.4,598.3 570.7,599.6 575.6,601.2 580.7,603.2 585.4,605.2 589.6,607.2 592.8,608.9 594.7,610.3 595.2,611.3 593.7,616.8 592.8,617.2 590.6,617 587.1,616.2 582.8,614.9 577.9,613.3 572.8,611.3 568.1,609.3 563.9,607.3 560.7,605.6 558.8,604.2 558.3,603.2" fill="#f2f2f2" stroke="#000" stroke-width="1.1" stroke-linejoin="round" /><polyline points="595.2,611.3 594.3,611.7 592.1,611.5 588.6,610.7 584.3,609.4 579.4,607.8 574.3,605.8 569.6,603.8 565.4,601.8 562.2,600.1 560.3,598.7 559.8,597.7" fill="none" stroke="#000" stroke-width="1.1"/><polyline points="597.7,603.7 597,604 595.7,603.9 593.8,603.6 591.3,603.1 588.5,602.3 585.4,601.3 582,600.1 578.6,598.9 575.3,597.5 572.2,596.1 569.4,594.8 567,593.5 565.2,592.4 563.9,591.5 563.3,590.7 563.3,590.3" fill="none" stroke="#000" stroke-width="1" stroke-linejoin="round"/><line x1="590" y1="589" x2="582.5" y2="612" stroke="#000" stroke-width="1"/><line x1="595" y1="591" x2="587.5" y2="614" stroke="#000" stroke-width="1"/><polygon points="571.7,572.9 572.6,572.6 574.8,572.8 578.1,573.6 582.4,574.8 587.1,576.4 592,578.3 596.7,580.3 600.8,582.2 603.9,583.9 605.7,585.2 606.3,586.1 604.8,591.6 603.9,591.9 601.7,591.7 598.4,590.9 594.1,589.7 589.4,588.1 584.5,586.2 579.8,584.2 575.7,582.3 572.6,580.6 570.8,579.3 570.2,578.4" fill="#f2f2f2" stroke="#000" stroke-width="1.1" stroke-linejoin="round" /><polyline points="606.3,586.1 605.4,586.4 603.2,586.2 599.9,585.4 595.6,584.2 590.9,582.6 586,580.7 581.3,578.7 577.2,576.8 574.1,575.1 572.3,573.8 571.7,572.9" fill="none" stroke="#000" stroke-width="1.1"/><line x1="592" y1="552" x2="586" y2="576" stroke="#000" stroke-width="1"/><line x1="598" y1="554" x2="592" y2="578" stroke="#000" stroke-width="1"/><line x1="579" y1="566" x2="575" y2="578" stroke="#000" stroke-width="0.9"/><polygon points="552.7,548.4 553.3,548 554.8,547.9 557,548.3 559.8,549 562.8,550.1 565.9,551.3 568.5,552.6 570.6,553.9 571.9,555 572.3,555.8 571.3,561.8 570.7,562.2 569.2,562.3 567,561.9 564.2,561.2 561.2,560.1 558.1,558.9 555.5,557.6 553.4,556.3 552.1,555.2 551.7,554.4" fill="#f2f2f2" stroke="#000" stroke-width="1.1" stroke-linejoin="round" /><polyline points="572.3,555.8 571.7,556.2 570.2,556.3 568,555.9 565.2,555.2 562.2,554.1 559.1,552.9 556.5,551.6 554.4,550.3 553.1,549.2 552.7,548.4" fill="none" stroke="#000" stroke-width="1.1"/><polygon points="557.7,524.5 558.4,524.1 560.1,524 562.6,524.5 565.7,525.3 569,526.5 572.3,527.8 575.3,529.3 577.5,530.6 578.9,531.8 579.3,532.7 574.3,552.7 573.6,553.1 571.9,553.2 569.4,552.7 566.3,551.9 563,550.7 559.7,549.4 556.7,547.9 554.5,546.6 553.1,545.4 552.7,544.5" fill="#f2f2f2" stroke="#000" stroke-width="1.1" stroke-linejoin="round" /><polyline points="579.3,532.7 578.6,533.1 576.9,533.2 574.4,532.7 571.3,531.9 568,530.7 564.7,529.4 561.7,527.9 559.5,526.6 558.1,525.4 557.7,524.5" fill="none" stroke="#000" stroke-width="1.1"/><line x1="560.2" y1="527.9" x2="555.2" y2="546.9" stroke="#000" stroke-width="0.9"/><line x1="564.4" y1="529.5" x2="559.4" y2="548.5" stroke="#000" stroke-width="0.9"/><line x1="568.5" y1="531.1" x2="563.5" y2="550.1" stroke="#000" stroke-width="0.9"/><line x1="572.6" y1="532.7" x2="567.6" y2="551.7" stroke="#000" stroke-width="0.9"/><line x1="576.8" y1="534.3" x2="571.8" y2="553.3" stroke="#000" stroke-width="0.9"/><polygon points="566.1,518.2 566.6,517.8 567.7,517.6 569.2,517.8 571,518.2 573,518.9 575,519.7 576.7,520.6 578,521.5 578.7,522.4 578.9,523 577.1,529 576.6,529.4 575.5,529.6 574,529.4 572.2,529 570.2,528.3 568.2,527.5 566.5,526.6 565.2,525.7 564.5,524.8 564.3,524.2" fill="#f2f2f2" stroke="#000" stroke-width="1.1" stroke-linejoin="round" /><polyline points="578.9,523 578.4,523.4 577.3,523.6 575.8,523.4 574,523 572,522.3 570,521.5 568.3,520.6 567,519.7 566.3,518.8 566.1,518.2" fill="none" stroke="#000" stroke-width="1.1"/><ellipse cx="572.5" cy="520.6" rx="6.8" ry="1.8" transform="rotate(21 572.5 520.6)" fill="#f2f2f2" stroke="#000" stroke-width="2.2"/><polygon points="568.2,559.8 568.8,559.4 570.3,559.3 572.5,559.7 575.3,560.4 578.3,561.5 581.4,562.7 584,564 586.1,565.3 587.4,566.4 587.8,567.2 586.8,573.2 586.2,573.6 584.7,573.7 582.5,573.3 579.7,572.6 576.7,571.5 573.6,570.3 571,569 568.9,567.7 567.6,566.6 567.2,565.8" fill="#f2f2f2" stroke="#000" stroke-width="1.1" stroke-linejoin="round" /><polyline points="587.8,567.2 587.2,567.6 585.7,567.7 583.5,567.3 580.7,566.6 577.7,565.5 574.6,564.3 572,563 569.9,561.7 568.6,560.6 568.2,559.8" fill="none" stroke="#000" stroke-width="1.1"/><polygon points="573.2,535.9 573.9,535.5 575.6,535.4 578.1,535.9 581.2,536.7 584.5,537.9 587.8,539.2 590.8,540.7 593,542 594.4,543.2 594.8,544.1 589.8,564.1 589.1,564.5 587.4,564.6 584.9,564.1 581.8,563.3 578.5,562.1 575.2,560.8 572.2,559.3 570,558 568.6,556.8 568.2,555.9" fill="#f2f2f2" stroke="#000" stroke-width="1.1" stroke-linejoin="round" /><polyline points="594.8,544.1 594.1,544.5 592.4,544.6 589.9,544.1 586.8,543.3 583.5,542.1 580.2,540.8 577.2,539.3 575,538 573.6,536.8 573.2,535.9" fill="none" stroke="#000" stroke-width="1.1"/><line x1="575.7" y1="539.3" x2="570.7" y2="558.3" stroke="#000" stroke-width="0.9"/><line x1="579.9" y1="540.9" x2="574.9" y2="559.9" stroke="#000" stroke-width="0.9"/><line x1="584" y1="542.5" x2="579" y2="561.5" stroke="#000" stroke-width="0.9"/><line x1="588.1" y1="544.1" x2="583.1" y2="563.1" stroke="#000" stroke-width="0.9"/><line x1="592.3" y1="545.7" x2="587.3" y2="564.7" stroke="#000" stroke-width="0.9"/><polygon points="581.6,529.6 582.1,529.2 583.2,529 584.7,529.2 586.5,529.6 588.5,530.3 590.5,531.1 592.2,532 593.5,532.9 594.2,533.8 594.4,534.4 592.6,540.4 592.1,540.8 591,541 589.5,540.8 587.7,540.4 585.7,539.7 583.7,538.9 582,538 580.7,537.1 580,536.2 579.8,535.6" fill="#f2f2f2" stroke="#000" stroke-width="1.1" stroke-linejoin="round" /><polyline points="594.4,534.4 593.9,534.8 592.8,535 591.3,534.8 589.5,534.4 587.5,533.7 585.5,532.9 583.8,532 582.5,531.1 581.8,530.2 581.6,529.6" fill="none" stroke="#000" stroke-width="1.1"/><ellipse cx="588" cy="532" rx="6.8" ry="1.8" transform="rotate(21 588 532)" fill="#f2f2f2" stroke="#000" stroke-width="2.2"/>
<polygon points="623.5,586 624.1,585.6 625.7,585.6 628.1,586.1 631.1,587 634.5,588.1 637.8,589.5 640.7,590.9 643.1,592.2 644.6,593.3 645.1,594 644.6,600 644,600.4 642.4,600.4 640,599.9 637,599 633.6,597.9 630.3,596.5 627.4,595.1 625,593.8 623.5,592.7 623,592" fill="#f2f2f2" stroke="#000" stroke-width="1.1" stroke-linejoin="round" /><polyline points="645.1,594 644.5,594.4 642.9,594.4 640.5,593.9 637.5,593 634.1,591.9 630.8,590.5 627.9,589.1 625.5,587.8 624,586.7 623.5,586" fill="none" stroke="#000" stroke-width="1.1"/><polygon points="627.9,569.6 650.6,576.7 645.7,591.8 623,583.8" fill="#f2f2f2" stroke="#000" stroke-width="1.2" stroke-linejoin="round"/><line x1="640.5" y1="573.5" x2="635" y2="589" stroke="#000" stroke-width="1.1"/><polygon points="632,567 652,573 650,577 630,571" fill="#f2f2f2" stroke="#000" stroke-width="1.1" stroke-linejoin="round"/><polygon points="633.7,554.9 657.7,563.3 654.6,571.8 631.4,563.8" fill="#f2f2f2" stroke="#000" stroke-width="1.2" stroke-linejoin="round"/><line x1="648" y1="560" x2="646" y2="570" stroke="#000" stroke-width="1.1"/><polygon points="643.3,536.7 643.9,536.3 645.4,536.3 647.5,536.6 650.2,537.3 653,538.3 655.9,539.4 658.4,540.6 660.3,541.7 661.4,542.6 661.7,543.3 656.5,559.8 655.9,560.2 654.4,560.2 652.3,559.9 649.6,559.2 646.8,558.2 643.9,557.1 641.4,555.9 639.5,554.8 638.4,553.9 638.1,553.2" fill="#f2f2f2" stroke="#000" stroke-width="1.1" stroke-linejoin="round" /><ellipse cx="652.5" cy="540" rx="9.8" ry="1.8" transform="rotate(20 652.5 540)" fill="#f2f2f2" stroke="#000" stroke-width="2.2"/><polyline points="656.7,559 656.3,559.2 655.5,559.3 654.4,559.2 653.1,559 651.5,558.6 649.8,558.1 648,557.6 646.2,556.9 644.4,556.2 642.8,555.5 641.4,554.7 640.2,554 639.2,553.4 638.6,552.8 638.4,552.4 638.5,552" fill="none" stroke="#000" stroke-width="1.8" stroke-linejoin="round"/>
<path d="M440.4,639.6 L451.9,639.6 Q520,655 570,678 Q600,692 608.4,698.7 L625,712.5 Q640,720 641.6,726 L637.4,739.4 L615.3,744.3 L609.8,746.3 L549,733.2 L516.9,700 L504.8,687.4 L429.6,687.4 L426.4,676.5 Z" fill="#f2f2f2" stroke="#000" stroke-width="1.1" stroke-linejoin="round"/><path d="M451.9,639.6 Q520,655 570,678 Q600,692 608.4,698.7" fill="none" stroke="#000" stroke-width="1.4" stroke-linejoin="round"/><polygon points="603,698 608.4,698.7 606.5,704.5 601.5,703" fill="#f2f2f2" stroke="#000" stroke-width="1" stroke-linejoin="round"/><line x1="445.5" y1="641.5" x2="432.8" y2="686.7" stroke="#000" stroke-width="1"/><polygon points="441.7,645.3 447.4,646.5 446,651.7 440.5,650.5" fill="#f2f2f2" stroke="#000" stroke-width="1" stroke-linejoin="round"/><line x1="436.6" y1="660" x2="442.3" y2="660.6" stroke="#000" stroke-width="1"/><path d="M471,686.7 L480,667 Q482,665.5 486.3,665.7 Q540,676 589,698.7 Q615,710 625,719.4" fill="none" stroke="#000" stroke-width="1" stroke-linejoin="round"/><path d="M494,668.3 Q560,688 625,720" fill="none" stroke="#000" stroke-width="1.8" stroke-linejoin="round"/><polygon points="492.7,668.9 497.8,670 496.5,675.3 491.5,674" fill="#f2f2f2" stroke="#000" stroke-width="1" stroke-linejoin="round"/><path d="M497.8,673.4 Q540,690 594.6,715.3 Q615,722 627.8,723.6" fill="none" stroke="#000" stroke-width="1" stroke-linejoin="round"/><path d="M529,692 Q532,694 536,694.5" fill="none" stroke="#000" stroke-width="1.6" stroke-linejoin="round"/><path d="M623,721 Q625,723 628,723.8" fill="none" stroke="#000" stroke-width="1.6" stroke-linejoin="round"/><path d="M520,701.4 Q560,718 593.2,731.8 L615.3,744.3" fill="none" stroke="#000" stroke-width="1" stroke-linejoin="round"/><path d="M520,700 Q560,716 589,727.7 Q615,734 638.8,736.7" fill="none" stroke="#000" stroke-width="1" stroke-linejoin="round"/><line x1="591.5" y1="728.5" x2="594" y2="737" stroke="#000" stroke-width="1"/><line x1="595.5" y1="729.5" x2="597.5" y2="738" stroke="#000" stroke-width="1"/><line x1="611" y1="732" x2="608" y2="742" stroke="#000" stroke-width="1"/><ellipse cx="476.5" cy="681" rx="1.2" ry="2.2" fill="none" stroke="#000" stroke-width="0.9"/><ellipse cx="481" cy="684" rx="1.2" ry="2.2" fill="none" stroke="#000" stroke-width="0.9"/>
<g transform="translate(-24.9 57) scale(0.4925)"><polygon points="683.3,169.2 683.7,168.7 684.6,168.4 685.8,168.4 687.3,168.6 688.9,169.1 690.4,169.7 691.7,170.5 692.7,171.3 693.2,172.1 693.3,172.8 687.9,191.1 687.5,191.6 686.6,191.9 685.4,191.9 683.9,191.7 682.3,191.2 680.8,190.6 679.5,189.8 678.5,189 678,188.2 677.9,187.5" fill="#f2f2f2" stroke="#000" stroke-width="2.23" stroke-linejoin="round" /><polygon points="673.8,186.6 674.3,186.3 675.7,186.3 677.7,186.7 680.2,187.4 682.9,188.3 685.6,189.3 688,190.4 689.8,191.4 691,192.3 691.2,193 689,200.9 688.5,201.2 687.1,201.2 685.1,200.8 682.6,200.1 679.9,199.2 677.2,198.2 674.8,197.1 673,196.1 671.8,195.2 671.6,194.5" fill="#f2f2f2" stroke="#000" stroke-width="2.23" stroke-linejoin="round" /><polyline points="691.2,193 690.7,193.3 689.3,193.3 687.3,192.9 684.8,192.2 682.1,191.3 679.4,190.3 677,189.2 675.2,188.2 674,187.3 673.8,186.6" fill="none" stroke="#000" stroke-width="2.23"/><polyline points="689.5,199.3 689.2,199.5 688.7,199.6 687.8,199.6 686.6,199.4 685.2,199.2 683.7,198.8 682,198.3 680.3,197.7 678.6,197 677,196.3 675.5,195.6 674.3,195 673.2,194.4 672.5,193.8 672.1,193.3 672,193" fill="none" stroke="#000" stroke-width="2.23" stroke-linejoin="round"/><polygon points="712.3,182.2 712.7,181.7 713.6,181.4 714.9,181.4 716.3,181.6 717.9,182.1 719.4,182.7 720.7,183.5 721.7,184.3 722.2,185.1 722.3,185.8 714.5,210.3 714.1,210.8 713.2,211.1 711.9,211.1 710.5,210.9 708.9,210.4 707.4,209.8 706.1,209 705.1,208.2 704.6,207.4 704.5,206.7" fill="#f2f2f2" stroke="#000" stroke-width="2.23" stroke-linejoin="round" /><polygon points="700.1,206.2 700.6,205.9 702,205.9 704,206.3 706.5,206.9 709.2,207.8 711.9,208.9 714.3,210 716.1,211 717.2,211.9 717.5,212.6 715.2,221.8 714.7,222.1 713.3,222.1 711.3,221.7 708.8,221.1 706.1,220.2 703.4,219.1 701,218 699.2,217 698.1,216.1 697.8,215.4" fill="#f2f2f2" stroke="#000" stroke-width="2.23" stroke-linejoin="round" /><polyline points="717.5,212.6 717,212.9 715.6,212.9 713.6,212.5 711.1,211.9 708.4,211 705.7,209.9 703.3,208.8 701.5,207.8 700.4,206.9 700.1,206.2" fill="none" stroke="#000" stroke-width="2.23"/><polyline points="715.7,219.9 715.5,220.2 714.9,220.3 714,220.2 712.9,220.1 711.5,219.8 709.9,219.4 708.3,218.9 706.6,218.3 704.9,217.7 703.3,217 701.8,216.3 700.5,215.6 699.5,215 698.7,214.4 698.3,214 698.2,213.6" fill="none" stroke="#000" stroke-width="2.23" stroke-linejoin="round"/><polygon points="796.5,210.2 796.9,209.7 797.8,209.4 799.1,209.4 800.5,209.6 802.1,210.1 803.6,210.7 804.9,211.5 805.9,212.3 806.4,213.1 806.5,213.8 799.5,235.3 799.1,235.8 798.2,236.1 796.9,236.1 795.5,235.9 793.9,235.4 792.4,234.8 791.1,234 790.1,233.2 789.6,232.4 789.5,231.7" fill="#f2f2f2" stroke="#000" stroke-width="2.23" stroke-linejoin="round" /><polygon points="784.8,233.3 785.3,233 786.7,233 788.7,233.4 791.2,234 793.9,234.9 796.6,236 799,237.1 800.8,238.1 801.9,239 802.2,239.7 800,248.2 799.5,248.5 798.1,248.5 796.1,248.1 793.6,247.5 790.9,246.6 788.2,245.5 785.8,244.4 784,243.4 782.9,242.5 782.6,241.8" fill="#f2f2f2" stroke="#000" stroke-width="2.23" stroke-linejoin="round" /><polyline points="802.2,239.7 801.7,240 800.3,240 798.3,239.6 795.8,239 793.1,238.1 790.4,237 788,235.9 786.2,234.9 785.1,234 784.8,233.3" fill="none" stroke="#000" stroke-width="2.23"/><polyline points="800.5,246.5 800.2,246.7 799.7,246.8 798.8,246.8 797.6,246.6 796.3,246.3 794.7,245.9 793.1,245.4 791.3,244.9 789.6,244.2 788,243.5 786.5,242.8 785.3,242.2 784.2,241.5 783.5,241 783.1,240.5 783,240.1" fill="none" stroke="#000" stroke-width="2.23" stroke-linejoin="round"/><polygon points="722.2,187.7 722.9,187.2 724.5,187 727,187.1 730,187.4 733.3,188 736.7,188.8 739.6,189.7 741.9,190.7 743.3,191.6 743.8,192.3 742.3,200.8 741.6,201.3 740,201.5 737.5,201.4 734.5,201.1 731.2,200.5 727.8,199.7 724.9,198.8 722.6,197.8 721.2,196.9 720.7,196.2" fill="#f2f2f2" stroke="#000" stroke-width="2.23" stroke-linejoin="round" /><polygon points="755.8,197.3 756.1,196.8 756.9,196.5 758.1,196.5 759.6,196.7 761.2,197.2 762.8,197.8 764.2,198.5 765.3,199.3 766,200.1 766.2,200.7 765.2,209.7 764.9,210.2 764.1,210.5 762.9,210.5 761.4,210.3 759.8,209.8 758.2,209.2 756.8,208.5 755.7,207.7 755,206.9 754.8,206.3" fill="#f2f2f2" stroke="#000" stroke-width="2.23" stroke-linejoin="round" /><polygon points="744.5,206.5 745.3,206 747.2,205.9 749.9,206.3 753.3,207.2 756.9,208.4 760.5,209.9 763.7,211.4 766.1,213 767.6,214.3 767.9,215.3 765.5,223.3 764.7,223.8 762.8,223.9 760.1,223.5 756.7,222.6 753.1,221.4 749.5,219.9 746.3,218.4 743.9,216.8 742.4,215.5 742.1,214.5" fill="#f2f2f2" stroke="#000" stroke-width="2.23" stroke-linejoin="round" /><polyline points="767.9,215.3 767.1,215.8 765.2,215.9 762.5,215.5 759.1,214.6 755.5,213.4 751.9,211.9 748.7,210.4 746.3,208.8 744.8,207.5 744.5,206.5" fill="none" stroke="#000" stroke-width="2.23"/><polyline points="766,221.7 765.6,222.1 764.8,222.3 763.6,222.3 762,222.2 760.2,221.8 758.1,221.3 755.8,220.6 753.5,219.8 751.3,218.9 749.1,217.9 747.2,217 745.5,216 744.1,215.1 743.2,214.2 742.6,213.5 742.6,212.9" fill="none" stroke="#000" stroke-width="2.23" stroke-linejoin="round"/><ellipse cx="755.5" cy="211.5" rx="9" ry="1.3" transform="rotate(20.6 755.5 211.5)" fill="#f2f2f2" stroke="#000" stroke-width="2.23"/><polygon points="681.2,135.5 681.6,134.9 682.6,134.5 684,134.3 685.8,134.2 688.1,134.3 690.8,134.6 693.9,135 697.4,135.7 701.3,136.5 705.5,137.4 710,138.5 714.8,139.8 719.9,141.2 725.2,142.7 730.7,144.3 736.4,146.1 742.2,147.9 748.1,149.9 754,151.9 760,154 765.9,156.2 771.8,158.3 777.6,160.6 783.3,162.8 788.8,165 794.1,167.2 799.2,169.4 804,171.5 808.5,173.6 812.7,175.6 816.6,177.5 820.1,179.4 823.2,181.1 825.9,182.7 828.2,184.2 830.1,185.6 831.4,186.8 832.4,187.8 832.8,188.8 832.8,189.5 823.8,215 823.4,215.6 822.4,216 821,216.2 819.2,216.3 816.9,216.2 814.2,215.9 811.1,215.5 807.6,214.8 803.7,214 799.5,213.1 795,212 790.2,210.7 785.1,209.3 779.8,207.8 774.3,206.2 768.6,204.4 762.8,202.6 756.9,200.6 751,198.6 745,196.5 739.1,194.3 733.2,192.2 727.4,189.9 721.7,187.7 716.2,185.5 710.9,183.3 705.8,181.1 701,179 696.5,176.9 692.3,174.9 688.4,173 684.9,171.1 681.8,169.4 679.1,167.8 676.8,166.3 674.9,164.9 673.6,163.7 672.6,162.7 672.2,161.7 672.2,161" fill="#f2f2f2" stroke="#000" stroke-width="2.23" stroke-linejoin="round" /><polyline points="832.8,189.5 832.4,190.1 831.4,190.5 830,190.7 828.2,190.8 825.9,190.7 823.2,190.4 820.1,190 816.6,189.3 812.7,188.5 808.5,187.6 804,186.5 799.2,185.2 794.1,183.8 788.8,182.3 783.3,180.7 777.6,178.9 771.8,177.1 765.9,175.1 760,173.1 754,171 748.1,168.8 742.2,166.7 736.4,164.4 730.7,162.2 725.2,160 719.9,157.8 714.8,155.6 710,153.5 705.5,151.4 701.3,149.4 697.4,147.5 693.9,145.6 690.8,143.9 688.1,142.3 685.8,140.8 683.9,139.4 682.6,138.2 681.6,137.2 681.2,136.2 681.2,135.5" fill="none" stroke="#000" stroke-width="2.23"/><ellipse cx="702" cy="138" rx="5.5" ry="0.9" transform="rotate(20 702 138)" fill="#f2f2f2" stroke="#000" stroke-width="2.23"/><ellipse cx="720" cy="147.7" rx="7.5" ry="0.9" transform="rotate(25 720 147.7)" fill="#f2f2f2" stroke="#000" stroke-width="2.56"/><ellipse cx="728.6" cy="156.3" rx="6" ry="1" transform="rotate(28 728.6 156.3)" fill="#f2f2f2" stroke="#000" stroke-width="2.56"/><ellipse cx="738.6" cy="147.5" rx="4" ry="0.7" transform="rotate(25 738.6 147.5)" fill="#f2f2f2" stroke="#000" stroke-width="2.23"/><ellipse cx="745" cy="154.5" rx="8" ry="0.8" transform="rotate(22 745 154.5)" fill="#f2f2f2" stroke="#000" stroke-width="2.42"/><ellipse cx="739" cy="158.2" rx="14" ry="0.9" transform="rotate(18 739 158.2)" fill="#f2f2f2" stroke="#000" stroke-width="2.23"/><ellipse cx="777" cy="162.4" rx="6" ry="0.9" transform="rotate(24 777 162.4)" fill="#f2f2f2" stroke="#000" stroke-width="2.23"/><ellipse cx="770" cy="170" rx="12.5" ry="1.8" transform="rotate(21 770 170)" fill="#f2f2f2" stroke="#000" stroke-width="2.23"/><ellipse cx="798.5" cy="170.5" rx="6.5" ry="0.9" transform="rotate(20 798.5 170.5)" fill="#f2f2f2" stroke="#000" stroke-width="2.23"/><ellipse cx="791" cy="180.8" rx="4" ry="0.6" transform="rotate(20 791 180.8)" fill="#f2f2f2" stroke="#000" stroke-width="2.23"/><ellipse cx="813.4" cy="185.6" rx="5" ry="0.8" transform="rotate(20 813.4 185.6)" fill="#f2f2f2" stroke="#000" stroke-width="2.23"/><line x1="755" y1="158.5" x2="755.8" y2="163" stroke="#000" stroke-width="2.23"/><circle cx="778" cy="187.5" r="6" fill="none" stroke="#000" stroke-width="1"/><circle cx="778" cy="187.5" r="3.8" fill="none" stroke="#000" stroke-width="1"/><circle cx="778" cy="187.5" r="1.8" fill="none" stroke="#000" stroke-width="0.9"/><ellipse cx="796.5" cy="199.5" rx="3.6" ry="3.8" fill="none" stroke="#000" stroke-width="1"/><circle cx="798.5" cy="201.5" r="2.8" fill="#000"/></g>
<g transform="translate(-21.5 49.2) scale(0.4925)"><polygon points="669.9,257.9 670.3,257.5 671.4,257.4 673.1,257.7 675.1,258.2 677.4,258.9 679.7,259.8 681.7,260.7 683.3,261.6 684.3,262.5 684.5,263.1 682.7,276.6 682.3,277 681.2,277.1 679.5,276.8 677.5,276.3 675.2,275.6 672.9,274.7 670.9,273.8 669.3,272.9 668.3,272 668.1,271.4" fill="#f2f2f2" stroke="#000" stroke-width="2.23" stroke-linejoin="round" /><polyline points="684.5,263.1 684.1,263.5 683,263.6 681.3,263.3 679.3,262.8 677,262.1 674.7,261.2 672.7,260.3 671.1,259.4 670.1,258.5 669.9,257.9" fill="none" stroke="#000" stroke-width="2.23"/><polyline points="683.7,269.1 683.6,269.4 683.1,269.5 682.4,269.6 681.4,269.5 680.3,269.3 679,269 677.6,268.6 676.2,268.1 674.8,267.6 673.4,267 672.1,266.4 671.1,265.8 670.2,265.2 669.5,264.7 669.2,264.3 669.1,263.9" fill="none" stroke="#000" stroke-width="2.23" stroke-linejoin="round"/><polyline points="683.2,273.1 683,273.4 682.6,273.5 681.9,273.6 680.9,273.5 679.8,273.3 678.5,273 677.1,272.6 675.7,272.1 674.2,271.6 672.9,271 671.6,270.4 670.5,269.8 669.6,269.2 669,268.7 668.6,268.3 668.5,267.9" fill="none" stroke="#000" stroke-width="2.23" stroke-linejoin="round"/><polygon points="671.6,255.8 672.1,255.5 673.3,255.5 674.9,255.8 676.9,256.3 679.1,257 681.2,257.8 683.1,258.7 684.5,259.6 685.4,260.3 685.6,260.8 685,262.4 684.5,262.7 683.3,262.7 681.7,262.4 679.7,261.9 677.5,261.2 675.4,260.4 673.5,259.5 672.1,258.6 671.2,257.9 671,257.4" fill="#000" stroke="#000" stroke-width="2.23" stroke-linejoin="round" /><polyline points="685.6,260.8 685.1,261.1 683.9,261.1 682.3,260.8 680.3,260.3 678.1,259.6 676,258.8 674.1,257.9 672.7,257 671.8,256.3 671.6,255.8" fill="none" stroke="#000" stroke-width="2.23"/><polygon points="674.8,246.8 675.2,246.5 676.1,246.4 677.6,246.7 679.4,247.1 681.3,247.7 683.2,248.5 684.9,249.3 686.2,250.1 687,250.7 687.2,251.2 685,260.7 684.6,261 683.7,261.1 682.2,260.8 680.4,260.4 678.5,259.8 676.6,259 674.9,258.2 673.6,257.4 672.8,256.8 672.6,256.3" fill="#f2f2f2" stroke="#000" stroke-width="2.23" stroke-linejoin="round" /><polyline points="687.2,251.2 686.8,251.5 685.9,251.6 684.4,251.3 682.6,250.9 680.7,250.3 678.8,249.5 677.1,248.7 675.8,247.9 675,247.3 674.8,246.8" fill="none" stroke="#000" stroke-width="2.23"/><ellipse cx="681" cy="249" rx="6.6" ry="1.1" transform="rotate(20 681 249)" fill="#f2f2f2" stroke="#000" stroke-width="2.70"/><polygon points="693.9,264.4 694.3,264 695.4,263.9 697.1,264.2 699.1,264.7 701.4,265.4 703.7,266.3 705.7,267.2 707.3,268.1 708.3,269 708.5,269.6 706.7,283.1 706.3,283.5 705.2,283.6 703.5,283.3 701.5,282.8 699.2,282.1 696.9,281.2 694.9,280.3 693.3,279.4 692.3,278.5 692.1,277.9" fill="#f2f2f2" stroke="#000" stroke-width="2.23" stroke-linejoin="round" /><polyline points="708.5,269.6 708.1,270 707,270.1 705.3,269.8 703.3,269.3 701,268.6 698.7,267.7 696.7,266.8 695.1,265.9 694.1,265 693.9,264.4" fill="none" stroke="#000" stroke-width="2.23"/><polyline points="707.7,275.6 707.6,275.9 707.1,276 706.4,276.1 705.4,276 704.3,275.8 703,275.5 701.6,275.1 700.2,274.6 698.8,274.1 697.4,273.5 696.1,272.9 695.1,272.3 694.2,271.7 693.5,271.2 693.2,270.8 693.1,270.4" fill="none" stroke="#000" stroke-width="2.23" stroke-linejoin="round"/><polyline points="707.2,279.6 707,279.9 706.6,280 705.9,280.1 704.9,280 703.8,279.8 702.5,279.5 701.1,279.1 699.7,278.6 698.2,278.1 696.9,277.5 695.6,276.9 694.5,276.3 693.6,275.7 693,275.2 692.6,274.8 692.5,274.4" fill="none" stroke="#000" stroke-width="2.23" stroke-linejoin="round"/><polygon points="695.6,262.3 696.1,262 697.3,262 698.9,262.3 700.9,262.8 703.1,263.5 705.2,264.3 707.1,265.2 708.5,266.1 709.4,266.8 709.6,267.3 709,268.9 708.5,269.2 707.3,269.2 705.7,268.9 703.7,268.4 701.5,267.7 699.4,266.9 697.5,266 696.1,265.1 695.2,264.4 695,263.9" fill="#000" stroke="#000" stroke-width="2.23" stroke-linejoin="round" /><polyline points="709.6,267.3 709.1,267.6 707.9,267.6 706.3,267.3 704.3,266.8 702.1,266.1 700,265.3 698.1,264.4 696.7,263.5 695.8,262.8 695.6,262.3" fill="none" stroke="#000" stroke-width="2.23"/><polygon points="698.8,253.3 699.2,253 700.1,252.9 701.6,253.2 703.4,253.6 705.3,254.2 707.2,255 708.9,255.8 710.2,256.6 711,257.2 711.2,257.7 709,267.2 708.6,267.5 707.7,267.6 706.2,267.3 704.4,266.9 702.5,266.3 700.6,265.5 698.9,264.7 697.6,263.9 696.8,263.3 696.6,262.8" fill="#f2f2f2" stroke="#000" stroke-width="2.23" stroke-linejoin="round" /><polyline points="711.2,257.7 710.8,258 709.9,258.1 708.4,257.8 706.6,257.4 704.7,256.8 702.8,256 701.1,255.2 699.8,254.4 699,253.8 698.8,253.3" fill="none" stroke="#000" stroke-width="2.23"/><ellipse cx="705" cy="255.5" rx="6.6" ry="1.1" transform="rotate(20 705 255.5)" fill="#f2f2f2" stroke="#000" stroke-width="2.70"/><polygon points="681.7,267.1 682.1,266.7 683.2,266.6 684.9,266.9 686.9,267.4 689.2,268.1 691.5,269 693.5,269.9 695.1,270.8 696.1,271.7 696.3,272.3 694.5,285.8 694.1,286.2 693,286.3 691.3,286 689.3,285.5 687,284.8 684.7,283.9 682.7,283 681.1,282.1 680.1,281.2 679.9,280.6" fill="#f2f2f2" stroke="#000" stroke-width="2.23" stroke-linejoin="round" /><polyline points="696.3,272.3 695.9,272.7 694.8,272.8 693.1,272.5 691.1,272 688.8,271.3 686.5,270.4 684.5,269.5 682.9,268.6 681.9,267.7 681.7,267.1" fill="none" stroke="#000" stroke-width="2.23"/><polyline points="695.5,278.3 695.4,278.6 694.9,278.7 694.2,278.8 693.2,278.7 692.1,278.5 690.8,278.2 689.4,277.8 688,277.3 686.6,276.8 685.2,276.2 683.9,275.6 682.9,275 682,274.4 681.3,273.9 681,273.5 680.9,273.1" fill="none" stroke="#000" stroke-width="2.23" stroke-linejoin="round"/><polyline points="695,282.3 694.8,282.6 694.4,282.7 693.7,282.8 692.7,282.7 691.6,282.5 690.3,282.2 688.9,281.8 687.5,281.3 686,280.8 684.7,280.2 683.4,279.6 682.3,279 681.4,278.4 680.8,277.9 680.4,277.5 680.3,277.1" fill="none" stroke="#000" stroke-width="2.23" stroke-linejoin="round"/><polygon points="683.4,265 683.9,264.7 685.1,264.7 686.7,265 688.7,265.5 690.9,266.2 693,267 694.9,267.9 696.3,268.8 697.2,269.5 697.4,270 696.8,271.6 696.3,271.9 695.1,271.9 693.5,271.6 691.5,271.1 689.3,270.4 687.2,269.6 685.3,268.7 683.9,267.8 683,267.1 682.8,266.6" fill="#000" stroke="#000" stroke-width="2.23" stroke-linejoin="round" /><polyline points="697.4,270 696.9,270.3 695.7,270.3 694.1,270 692.1,269.5 689.9,268.8 687.8,268 685.9,267.1 684.5,266.2 683.6,265.5 683.4,265" fill="none" stroke="#000" stroke-width="2.23"/><polygon points="686.6,256 687,255.7 687.9,255.6 689.4,255.9 691.2,256.3 693.1,256.9 695,257.7 696.7,258.5 698,259.3 698.8,259.9 699,260.4 696.8,269.9 696.4,270.2 695.5,270.3 694,270 692.2,269.6 690.3,269 688.4,268.2 686.7,267.4 685.4,266.6 684.6,266 684.4,265.5" fill="#f2f2f2" stroke="#000" stroke-width="2.23" stroke-linejoin="round" /><polyline points="699,260.4 698.6,260.7 697.7,260.8 696.2,260.5 694.4,260.1 692.5,259.5 690.6,258.7 688.9,257.9 687.6,257.1 686.8,256.5 686.6,256" fill="none" stroke="#000" stroke-width="2.23"/><ellipse cx="692.8" cy="258.2" rx="6.6" ry="1.1" transform="rotate(20 692.8 258.2)" fill="#f2f2f2" stroke="#000" stroke-width="2.70"/></g>
<g transform="translate(-25.3 60.1) scale(0.4925)"><polygon points="603.8,339.6 604.2,339.1 605.2,338.7 606.6,338.5 608.5,338.5 610.9,338.6 613.7,339 616.9,339.5 620.6,340.2 624.6,341.1 628.9,342.1 633.7,343.3 638.7,344.7 643.9,346.2 649.4,347.8 655.1,349.6 661,351.5 667,353.5 673.2,355.5 679.3,357.7 685.5,359.9 691.7,362.2 697.8,364.5 703.8,366.8 709.7,369.2 715.4,371.5 720.9,373.8 726.2,376.1 731.2,378.4 735.9,380.5 740.3,382.6 744.3,384.7 748,386.6 751.2,388.4 754,390 756.4,391.6 758.3,393 759.8,394.2 760.7,395.3 761.2,396.2 761.2,397 752.2,422 751.8,422.5 750.8,422.9 749.4,423.1 747.5,423.1 745.1,423 742.3,422.6 739.1,422.1 735.4,421.4 731.4,420.5 727.1,419.5 722.3,418.3 717.3,416.9 712.1,415.4 706.6,413.8 700.9,412 695,410.1 689,408.1 682.8,406.1 676.7,403.9 670.5,401.7 664.3,399.4 658.2,397.1 652.2,394.8 646.3,392.4 640.6,390.1 635.1,387.8 629.8,385.5 624.8,383.2 620.1,381.1 615.7,379 611.7,376.9 608,375 604.8,373.2 602,371.6 599.6,370 597.7,368.6 596.2,367.4 595.3,366.3 594.8,365.4 594.8,364.6" fill="#f2f2f2" stroke="#000" stroke-width="2.23" stroke-linejoin="round" /><polyline points="761.2,397 760.8,397.5 759.8,397.9 758.4,398.1 756.5,398.1 754.1,398 751.3,397.6 748.1,397.1 744.4,396.4 740.4,395.5 736.1,394.5 731.3,393.3 726.3,391.9 721.1,390.4 715.6,388.8 709.9,387 704,385.1 698,383.1 691.8,381.1 685.7,378.9 679.5,376.7 673.3,374.4 667.2,372.1 661.2,369.8 655.3,367.4 649.6,365.1 644.1,362.8 638.8,360.5 633.8,358.2 629.1,356.1 624.7,354 620.7,351.9 617,350 613.8,348.2 611,346.6 608.6,345 606.7,343.6 605.2,342.4 604.3,341.3 603.8,340.4 603.8,339.6" fill="none" stroke="#000" stroke-width="2.23"/><polyline points="753.1,419.5 751,420.5 746,420.5 738.2,419.3 728,417 715.6,413.7 701.8,409.5 686.8,404.6 671.4,399.2 656.1,393.4 641.5,387.6 628.1,381.8 616.6,376.5 607.2,371.6 600.5,367.5 596.6,364.3 595.7,362.1" fill="none" stroke="#000" stroke-width="2.23" stroke-linejoin="round"/><polyline points="760.3,398.2 758.2,399.3 753.2,399.2 745.5,398.1 735.3,395.8 723.1,392.5 709.4,388.4 694.6,383.6 679.3,378.2 664.1,372.5 649.7,366.7 636.5,361 625,355.7 615.8,350.9 609.1,346.8 605.2,343.6 604.3,341.4" fill="none" stroke="#000" stroke-width="2.23" stroke-linejoin="round"/><ellipse cx="646" cy="353.5" rx="9.5" ry="0.8" transform="rotate(21 646 353.5)" fill="#f2f2f2" stroke="#000" stroke-width="2.84"/><ellipse cx="668.5" cy="360" rx="9" ry="0.8" transform="rotate(21 668.5 360)" fill="#f2f2f2" stroke="#000" stroke-width="2.27"/><ellipse cx="693" cy="376" rx="13" ry="1.6" transform="rotate(21 693 376)" fill="#f2f2f2" stroke="#000" stroke-width="2.23"/><ellipse cx="735" cy="384" rx="6" ry="0.8" transform="rotate(20 735 384)" fill="#f2f2f2" stroke="#000" stroke-width="2.23"/><polygon points="623.5,314.2 624,313.8 624.9,313.6 626.2,313.6 627.7,313.9 629.3,314.4 630.9,315.1 632.2,315.8 633.2,316.6 633.8,317.4 633.9,318 624.8,342.5 624.3,342.9 623.4,343.1 622.1,343.1 620.6,342.8 619,342.3 617.4,341.6 616.1,340.9 615.1,340.1 614.5,339.3 614.4,338.7" fill="#f2f2f2" stroke="#000" stroke-width="2.23" stroke-linejoin="round" /><polygon points="623.6,306.8 624,306.3 625.1,306.1 626.6,306.1 628.5,306.5 630.6,307.1 632.6,307.9 634.4,308.8 635.8,309.8 636.6,310.7 636.8,311.4 635.3,319.4 634.9,319.9 633.8,320.1 632.3,320.1 630.4,319.7 628.3,319.1 626.3,318.3 624.5,317.4 623.1,316.4 622.3,315.5 622.1,314.8" fill="#f2f2f2" stroke="#000" stroke-width="2.23" stroke-linejoin="round" /><polyline points="636.8,311.4 636.4,311.9 635.3,312.1 633.8,312.1 631.9,311.7 629.8,311.1 627.8,310.3 626,309.4 624.6,308.4 623.8,307.5 623.6,306.8" fill="none" stroke="#000" stroke-width="2.23"/><ellipse cx="630.2" cy="309.1" rx="7" ry="2" transform="rotate(20 630.2 309.1)" fill="#f2f2f2" stroke="#000" stroke-width="2.23"/><polyline points="635.6,317.9 635.4,318.2 635,318.5 634.3,318.6 633.4,318.6 632.4,318.5 631.2,318.3 629.9,318 628.6,317.6 627.3,317.1 626.1,316.6 625,316 624.1,315.4 623.3,314.8 622.8,314.2 622.5,313.7 622.4,313.3" fill="none" stroke="#000" stroke-width="2.23" stroke-linejoin="round"/><polygon points="659.8,338.2 660.2,337.7 661,337.5 662.2,337.5 663.7,337.7 665.3,338.2 666.9,338.8 668.3,339.6 669.4,340.4 670,341.1 670.2,341.8 665.5,367.3 665.1,367.8 664.3,368 663.1,368 661.6,367.8 660,367.3 658.4,366.7 657,365.9 655.9,365.1 655.3,364.4 655.1,363.7" fill="#f2f2f2" stroke="#000" stroke-width="2.23" stroke-linejoin="round" /><polygon points="659.9,330.7 660.3,330.2 661.4,330 662.9,330 664.8,330.4 666.9,331 668.9,331.8 670.7,332.7 672.1,333.7 672.9,334.6 673.1,335.3 671.6,343.3 671.2,343.8 670.1,344 668.6,344 666.7,343.6 664.6,343 662.6,342.2 660.8,341.3 659.4,340.3 658.6,339.4 658.4,338.7" fill="#f2f2f2" stroke="#000" stroke-width="2.23" stroke-linejoin="round" /><polyline points="673.1,335.3 672.7,335.8 671.6,336 670.1,336 668.2,335.6 666.1,335 664.1,334.2 662.3,333.3 660.9,332.3 660.1,331.4 659.9,330.7" fill="none" stroke="#000" stroke-width="2.23"/><ellipse cx="666.5" cy="333" rx="7" ry="2" transform="rotate(20 666.5 333)" fill="#f2f2f2" stroke="#000" stroke-width="2.23"/><polyline points="671.9,341.8 671.7,342.1 671.3,342.4 670.6,342.5 669.7,342.5 668.7,342.4 667.5,342.2 666.2,341.9 664.9,341.5 663.6,341 662.4,340.5 661.3,339.9 660.4,339.3 659.6,338.7 659.1,338.1 658.8,337.6 658.7,337.2" fill="none" stroke="#000" stroke-width="2.23" stroke-linejoin="round"/><polygon points="711.5,343.4 712,343 712.9,342.8 714.2,342.8 715.7,343.1 717.3,343.6 718.9,344.3 720.3,345.1 721.3,345.8 721.8,346.6 721.9,347.2 712.8,370.9 712.3,371.3 711.4,371.5 710.1,371.5 708.6,371.2 707,370.7 705.4,370 704,369.2 703,368.5 702.5,367.7 702.4,367.1" fill="#f2f2f2" stroke="#000" stroke-width="2.23" stroke-linejoin="round" /><polygon points="711.6,336 712,335.5 713.1,335.3 714.6,335.3 716.5,335.7 718.6,336.3 720.6,337.1 722.4,338 723.8,339 724.6,339.9 724.8,340.6 723.3,348.6 722.9,349.1 721.8,349.3 720.3,349.3 718.4,348.9 716.3,348.3 714.3,347.5 712.5,346.6 711.1,345.6 710.3,344.7 710.1,344" fill="#f2f2f2" stroke="#000" stroke-width="2.23" stroke-linejoin="round" /><polyline points="724.8,340.6 724.4,341.1 723.3,341.3 721.8,341.3 719.9,340.9 717.8,340.3 715.8,339.5 714,338.6 712.6,337.6 711.8,336.7 711.6,336" fill="none" stroke="#000" stroke-width="2.23"/><ellipse cx="718.2" cy="338.3" rx="7" ry="2" transform="rotate(20 718.2 338.3)" fill="#f2f2f2" stroke="#000" stroke-width="2.23"/><polyline points="723.6,347.1 723.4,347.4 723,347.7 722.3,347.8 721.4,347.8 720.4,347.7 719.2,347.5 717.9,347.2 716.6,346.8 715.3,346.3 714.1,345.8 713,345.2 712.1,344.6 711.3,344 710.8,343.4 710.5,342.9 710.4,342.5" fill="none" stroke="#000" stroke-width="2.23" stroke-linejoin="round"/><polygon points="749.3,366.3 749.7,365.9 750.6,365.7 751.9,365.7 753.4,366 755,366.5 756.6,367.1 758,367.9 759,368.7 759.6,369.4 759.7,370.1 752,394.6 751.6,395 750.7,395.2 749.4,395.2 747.9,394.9 746.3,394.4 744.7,393.8 743.3,393 742.3,392.2 741.7,391.5 741.6,390.8" fill="#f2f2f2" stroke="#000" stroke-width="2.23" stroke-linejoin="round" /><polygon points="749.4,358.9 749.8,358.4 750.9,358.2 752.4,358.2 754.3,358.6 756.4,359.2 758.4,360 760.2,360.9 761.6,361.9 762.4,362.8 762.6,363.5 761.1,371.5 760.7,372 759.6,372.2 758.1,372.2 756.2,371.8 754.1,371.2 752.1,370.4 750.3,369.5 748.9,368.5 748.1,367.6 747.9,366.9" fill="#f2f2f2" stroke="#000" stroke-width="2.23" stroke-linejoin="round" /><polyline points="762.6,363.5 762.2,364 761.1,364.2 759.6,364.2 757.7,363.8 755.6,363.2 753.6,362.4 751.8,361.5 750.4,360.5 749.6,359.6 749.4,358.9" fill="none" stroke="#000" stroke-width="2.23"/><ellipse cx="756" cy="361.2" rx="7" ry="2" transform="rotate(20 756 361.2)" fill="#f2f2f2" stroke="#000" stroke-width="2.23"/><polyline points="761.4,370 761.2,370.3 760.8,370.6 760.1,370.7 759.2,370.7 758.2,370.6 757,370.4 755.7,370.1 754.4,369.7 753.1,369.2 751.9,368.7 750.8,368.1 749.9,367.5 749.1,366.9 748.6,366.3 748.3,365.8 748.2,365.4" fill="none" stroke="#000" stroke-width="2.23" stroke-linejoin="round"/><polygon points="718.5,364 718.9,363.6 719.7,363.4 720.8,363.4 722,363.7 723.3,364.1 724.5,364.6 725.5,365.3 726.2,365.9 726.5,366.5 726.5,367 716.5,386 716.1,386.4 715.3,386.6 714.2,386.6 713,386.3 711.7,385.9 710.5,385.4 709.5,384.7 708.8,384.1 708.5,383.5 708.5,383" fill="#f2f2f2" stroke="#000" stroke-width="2.23" stroke-linejoin="round" /><polyline points="726.5,367 726.1,367.4 725.3,367.6 724.2,367.6 723,367.3 721.7,366.9 720.5,366.4 719.5,365.7 718.8,365.1 718.5,364.5 718.5,364" fill="none" stroke="#000" stroke-width="2.23"/><ellipse cx="722.5" cy="365.5" rx="4.3" ry="1.6" transform="rotate(20 722.5 365.5)" fill="#f2f2f2" stroke="#000" stroke-width="2.23"/><circle cx="703.8" cy="393.7" r="6" fill="none" stroke="#000" stroke-width="1"/><circle cx="703.8" cy="393.7" r="3.6" fill="none" stroke="#000" stroke-width="1"/><ellipse cx="716.8" cy="404" rx="3.4" ry="3.6" fill="none" stroke="#000" stroke-width="1"/><circle cx="719" cy="406" r="2.6" fill="#000"/></g>
<g transform="translate(-26.3 60.4) scale(0.4925)"><polygon points="615.6,477.6 616.2,477.3 617.5,477.4 619.5,477.8 622.1,478.5 624.8,479.5 627.5,480.6 630,481.8 631.9,482.9 633,483.7 633.4,484.4 631.9,491.4 631.3,491.7 630,491.6 628,491.2 625.4,490.5 622.7,489.5 620,488.4 617.5,487.2 615.6,486.1 614.5,485.3 614.1,484.6" fill="#f2f2f2" stroke="#000" stroke-width="2.23" stroke-linejoin="round" /><polyline points="633.4,484.4 632.8,484.7 631.5,484.6 629.5,484.2 626.9,483.5 624.2,482.5 621.5,481.4 619,480.2 617.1,479.1 616,478.3 615.6,477.6" fill="none" stroke="#000" stroke-width="2.23"/><polygon points="622.6,455.4 623.3,455.1 624.9,455.3 627.4,455.9 630.5,456.9 633.8,458.1 637.1,459.4 640,460.8 642.3,462 643.7,463 644,463.6 636.5,483.6 635.8,483.9 634.2,483.7 631.7,483.1 628.6,482.1 625.3,480.9 622,479.6 619.1,478.2 616.8,477 615.4,476 615.1,475.4" fill="#f2f2f2" stroke="#000" stroke-width="2.23" stroke-linejoin="round" /><polyline points="644,463.6 643.3,463.9 641.7,463.7 639.2,463.1 636.1,462.1 632.8,460.9 629.5,459.6 626.6,458.2 624.3,457 622.9,456 622.6,455.4" fill="none" stroke="#000" stroke-width="2.23"/><polyline points="636.5,483.6 636.2,483.8 635.5,483.8 634.4,483.7 633,483.4 631.3,483 629.4,482.4 627.4,481.7 625.3,480.9 623.2,480.1 621.2,479.2 619.4,478.4 617.8,477.6 616.6,476.9 615.7,476.2 615.2,475.7 615.1,475.4" fill="none" stroke="#000" stroke-width="2.56" stroke-linejoin="round"/><polygon points="629.7,445 630.3,444.7 631.6,444.8 633.6,445.1 636,445.8 638.5,446.7 641,447.8 643.2,448.9 644.9,449.9 645.9,450.8 646.1,451.4 642.1,460.9 641.5,461.2 640.2,461.1 638.2,460.8 635.8,460.1 633.3,459.2 630.8,458.1 628.6,457 626.9,456 625.9,455.1 625.7,454.5" fill="#f2f2f2" stroke="#000" stroke-width="2.23" stroke-linejoin="round" /><ellipse cx="637.9" cy="448.2" rx="8.8" ry="1.6" transform="rotate(21 637.9 448.2)" fill="#f2f2f2" stroke="#000" stroke-width="3.13"/></g>
<g transform="translate(-26.1 59.8) scale(0.4925)"><ellipse cx="618" cy="501.6" rx="11.2" ry="2.6" transform="rotate(22 618 501.6)" fill="#f2f2f2" stroke="#000" stroke-width="2.23"/><ellipse cx="618" cy="501.6" rx="9.5" ry="1.1" transform="rotate(22 618 501.6)" fill="#f2f2f2" stroke="#000" stroke-width="2.23"/></g>
<g transform="translate(-26.9 59.8) scale(0.4925)"><polygon points="601.9,508.9 602.7,508.4 604.5,508.3 607.3,508.8 610.6,509.7 614.3,511 617.8,512.5 621,514 623.4,515.5 624.9,516.8 625.3,517.7 605.3,587.7 604.5,588.2 602.7,588.3 599.9,587.8 596.6,586.9 592.9,585.6 589.4,584.1 586.2,582.6 583.8,581.1 582.3,579.8 581.9,578.9" fill="#f2f2f2" stroke="#000" stroke-width="2.23" stroke-linejoin="round" /><polyline points="625.3,517.7 624.5,518.2 622.7,518.3 619.9,517.8 616.6,516.9 612.9,515.6 609.4,514.1 606.2,512.6 603.8,511.1 602.3,509.8 601.9,508.9" fill="none" stroke="#000" stroke-width="2.23"/><ellipse cx="613.6" cy="513.3" rx="12.5" ry="2.4" transform="rotate(21 613.6 513.3)" fill="#f2f2f2" stroke="#000" stroke-width="3.41"/><polyline points="617.6,542.1 617,542.4 616,542.4 614.7,542.3 613,542 611,541.5 608.9,540.8 606.6,540.1 604.3,539.2 602.1,538.3 600,537.3 598.2,536.3 596.6,535.4 595.4,534.6 594.7,533.9 594.3,533.3 594.4,532.9" fill="none" stroke="#000" stroke-width="2.56" stroke-linejoin="round"/><polyline points="616.6,544.6 616,544.9 615,544.9 613.7,544.8 612,544.5 610,544 607.9,543.3 605.6,542.6 603.3,541.7 601.1,540.8 599,539.8 597.2,538.8 595.6,537.9 594.4,537.1 593.7,536.4 593.3,535.8 593.4,535.4" fill="none" stroke="#000" stroke-width="2.23" stroke-linejoin="round"/><polygon points="568.7,579.4 569.7,579 572,579.2 575.4,580 579.7,581.2 584.5,582.9 589.4,584.8 594,586.7 598,588.7 601,590.4 602.8,591.7 603.3,592.6 594.8,612.6 593.8,613 591.5,612.8 588.1,612 583.8,610.8 579,609.1 574.1,607.2 569.5,605.3 565.5,603.3 562.5,601.6 560.7,600.3 560.2,599.4" fill="#f2f2f2" stroke="#000" stroke-width="2.23" stroke-linejoin="round" /><polyline points="603.3,592.6 602.3,593 600,592.8 596.6,592 592.3,590.8 587.5,589.1 582.6,587.2 578,585.3 574,583.3 571,581.6 569.2,580.3 568.7,579.4" fill="none" stroke="#000" stroke-width="2.23"/><polygon points="559.8,597.7 560.7,597.3 562.9,597.5 566.4,598.3 570.7,599.6 575.6,601.2 580.7,603.2 585.4,605.2 589.6,607.2 592.8,608.9 594.7,610.3 595.2,611.3 593.7,616.8 592.8,617.2 590.6,617 587.1,616.2 582.8,614.9 577.9,613.3 572.8,611.3 568.1,609.3 563.9,607.3 560.7,605.6 558.8,604.2 558.3,603.2" fill="#f2f2f2" stroke="#000" stroke-width="2.23" stroke-linejoin="round" /><polyline points="595.2,611.3 594.3,611.7 592.1,611.5 588.6,610.7 584.3,609.4 579.4,607.8 574.3,605.8 569.6,603.8 565.4,601.8 562.2,600.1 560.3,598.7 559.8,597.7" fill="none" stroke="#000" stroke-width="2.23"/><polyline points="597.7,603.7 597,604 595.7,603.9 593.8,603.6 591.3,603.1 588.5,602.3 585.4,601.3 582,600.1 578.6,598.9 575.3,597.5 572.2,596.1 569.4,594.8 567,593.5 565.2,592.4 563.9,591.5 563.3,590.7 563.3,590.3" fill="none" stroke="#000" stroke-width="2.23" stroke-linejoin="round"/><line x1="590" y1="589" x2="582.5" y2="612" stroke="#000" stroke-width="2.23"/><line x1="595" y1="591" x2="587.5" y2="614" stroke="#000" stroke-width="2.23"/><polygon points="571.7,572.9 572.6,572.6 574.8,572.8 578.1,573.6 582.4,574.8 587.1,576.4 592,578.3 596.7,580.3 600.8,582.2 603.9,583.9 605.7,585.2 606.3,586.1 604.8,591.6 603.9,591.9 601.7,591.7 598.4,590.9 594.1,589.7 589.4,588.1 584.5,586.2 579.8,584.2 575.7,582.3 572.6,580.6 570.8,579.3 570.2,578.4" fill="#f2f2f2" stroke="#000" stroke-width="2.23" stroke-linejoin="round" /><polyline points="606.3,586.1 605.4,586.4 603.2,586.2 599.9,585.4 595.6,584.2 590.9,582.6 586,580.7 581.3,578.7 577.2,576.8 574.1,575.1 572.3,573.8 571.7,572.9" fill="none" stroke="#000" stroke-width="2.23"/><line x1="592" y1="552" x2="586" y2="576" stroke="#000" stroke-width="2.23"/><line x1="598" y1="554" x2="592" y2="578" stroke="#000" stroke-width="2.23"/><line x1="579" y1="566" x2="575" y2="578" stroke="#000" stroke-width="2.23"/><polygon points="552.7,548.4 553.3,548 554.8,547.9 557,548.3 559.8,549 562.8,550.1 565.9,551.3 568.5,552.6 570.6,553.9 571.9,555 572.3,555.8 571.3,561.8 570.7,562.2 569.2,562.3 567,561.9 564.2,561.2 561.2,560.1 558.1,558.9 555.5,557.6 553.4,556.3 552.1,555.2 551.7,554.4" fill="#f2f2f2" stroke="#000" stroke-width="2.23" stroke-linejoin="round" /><polyline points="572.3,555.8 571.7,556.2 570.2,556.3 568,555.9 565.2,555.2 562.2,554.1 559.1,552.9 556.5,551.6 554.4,550.3 553.1,549.2 552.7,548.4" fill="none" stroke="#000" stroke-width="2.23"/><polygon points="557.7,524.5 558.4,524.1 560.1,524 562.6,524.5 565.7,525.3 569,526.5 572.3,527.8 575.3,529.3 577.5,530.6 578.9,531.8 579.3,532.7 574.3,552.7 573.6,553.1 571.9,553.2 569.4,552.7 566.3,551.9 563,550.7 559.7,549.4 556.7,547.9 554.5,546.6 553.1,545.4 552.7,544.5" fill="#f2f2f2" stroke="#000" stroke-width="2.23" stroke-linejoin="round" /><polyline points="579.3,532.7 578.6,533.1 576.9,533.2 574.4,532.7 571.3,531.9 568,530.7 564.7,529.4 561.7,527.9 559.5,526.6 558.1,525.4 557.7,524.5" fill="none" stroke="#000" stroke-width="2.23"/><line x1="560.2" y1="527.9" x2="555.2" y2="546.9" stroke="#000" stroke-width="2.23"/><line x1="564.4" y1="529.5" x2="559.4" y2="548.5" stroke="#000" stroke-width="2.23"/><line x1="568.5" y1="531.1" x2="563.5" y2="550.1" stroke="#000" stroke-width="2.23"/><line x1="572.6" y1="532.7" x2="567.6" y2="551.7" stroke="#000" stroke-width="2.23"/><line x1="576.8" y1="534.3" x2="571.8" y2="553.3" stroke="#000" stroke-width="2.23"/><polygon points="566.1,518.2 566.6,517.8 567.7,517.6 569.2,517.8 571,518.2 573,518.9 575,519.7 576.7,520.6 578,521.5 578.7,522.4 578.9,523 577.1,529 576.6,529.4 575.5,529.6 574,529.4 572.2,529 570.2,528.3 568.2,527.5 566.5,526.6 565.2,525.7 564.5,524.8 564.3,524.2" fill="#f2f2f2" stroke="#000" stroke-width="2.23" stroke-linejoin="round" /><polyline points="578.9,523 578.4,523.4 577.3,523.6 575.8,523.4 574,523 572,522.3 570,521.5 568.3,520.6 567,519.7 566.3,518.8 566.1,518.2" fill="none" stroke="#000" stroke-width="2.23"/><ellipse cx="572.5" cy="520.6" rx="6.8" ry="1.8" transform="rotate(21 572.5 520.6)" fill="#f2f2f2" stroke="#000" stroke-width="3.13"/><polygon points="568.2,559.8 568.8,559.4 570.3,559.3 572.5,559.7 575.3,560.4 578.3,561.5 581.4,562.7 584,564 586.1,565.3 587.4,566.4 587.8,567.2 586.8,573.2 586.2,573.6 584.7,573.7 582.5,573.3 579.7,572.6 576.7,571.5 573.6,570.3 571,569 568.9,567.7 567.6,566.6 567.2,565.8" fill="#f2f2f2" stroke="#000" stroke-width="2.23" stroke-linejoin="round" /><polyline points="587.8,567.2 587.2,567.6 585.7,567.7 583.5,567.3 580.7,566.6 577.7,565.5 574.6,564.3 572,563 569.9,561.7 568.6,560.6 568.2,559.8" fill="none" stroke="#000" stroke-width="2.23"/><polygon points="573.2,535.9 573.9,535.5 575.6,535.4 578.1,535.9 581.2,536.7 584.5,537.9 587.8,539.2 590.8,540.7 593,542 594.4,543.2 594.8,544.1 589.8,564.1 589.1,564.5 587.4,564.6 584.9,564.1 581.8,563.3 578.5,562.1 575.2,560.8 572.2,559.3 570,558 568.6,556.8 568.2,555.9" fill="#f2f2f2" stroke="#000" stroke-width="2.23" stroke-linejoin="round" /><polyline points="594.8,544.1 594.1,544.5 592.4,544.6 589.9,544.1 586.8,543.3 583.5,542.1 580.2,540.8 577.2,539.3 575,538 573.6,536.8 573.2,535.9" fill="none" stroke="#000" stroke-width="2.23"/><line x1="575.7" y1="539.3" x2="570.7" y2="558.3" stroke="#000" stroke-width="2.23"/><line x1="579.9" y1="540.9" x2="574.9" y2="559.9" stroke="#000" stroke-width="2.23"/><line x1="584" y1="542.5" x2="579" y2="561.5" stroke="#000" stroke-width="2.23"/><line x1="588.1" y1="544.1" x2="583.1" y2="563.1" stroke="#000" stroke-width="2.23"/><line x1="592.3" y1="545.7" x2="587.3" y2="564.7" stroke="#000" stroke-width="2.23"/><polygon points="581.6,529.6 582.1,529.2 583.2,529 584.7,529.2 586.5,529.6 588.5,530.3 590.5,531.1 592.2,532 593.5,532.9 594.2,533.8 594.4,534.4 592.6,540.4 592.1,540.8 591,541 589.5,540.8 587.7,540.4 585.7,539.7 583.7,538.9 582,538 580.7,537.1 580,536.2 579.8,535.6" fill="#f2f2f2" stroke="#000" stroke-width="2.23" stroke-linejoin="round" /><polyline points="594.4,534.4 593.9,534.8 592.8,535 591.3,534.8 589.5,534.4 587.5,533.7 585.5,532.9 583.8,532 582.5,531.1 581.8,530.2 581.6,529.6" fill="none" stroke="#000" stroke-width="2.23"/><ellipse cx="588" cy="532" rx="6.8" ry="1.8" transform="rotate(21 588 532)" fill="#f2f2f2" stroke="#000" stroke-width="3.13"/></g>
<g transform="translate(-25.6 59.6) scale(0.4925)"><polygon points="623.5,586 624.1,585.6 625.7,585.6 628.1,586.1 631.1,587 634.5,588.1 637.8,589.5 640.7,590.9 643.1,592.2 644.6,593.3 645.1,594 644.6,600 644,600.4 642.4,600.4 640,599.9 637,599 633.6,597.9 630.3,596.5 627.4,595.1 625,593.8 623.5,592.7 623,592" fill="#f2f2f2" stroke="#000" stroke-width="2.23" stroke-linejoin="round" /><polyline points="645.1,594 644.5,594.4 642.9,594.4 640.5,593.9 637.5,593 634.1,591.9 630.8,590.5 627.9,589.1 625.5,587.8 624,586.7 623.5,586" fill="none" stroke="#000" stroke-width="2.23"/><polygon points="627.9,569.6 650.6,576.7 645.7,591.8 623,583.8" fill="#f2f2f2" stroke="#000" stroke-width="2.23" stroke-linejoin="round"/><line x1="640.5" y1="573.5" x2="635" y2="589" stroke="#000" stroke-width="2.23"/><polygon points="632,567 652,573 650,577 630,571" fill="#f2f2f2" stroke="#000" stroke-width="2.23" stroke-linejoin="round"/><polygon points="633.7,554.9 657.7,563.3 654.6,571.8 631.4,563.8" fill="#f2f2f2" stroke="#000" stroke-width="2.23" stroke-linejoin="round"/><line x1="648" y1="560" x2="646" y2="570" stroke="#000" stroke-width="2.23"/><polygon points="643.3,536.7 643.9,536.3 645.4,536.3 647.5,536.6 650.2,537.3 653,538.3 655.9,539.4 658.4,540.6 660.3,541.7 661.4,542.6 661.7,543.3 656.5,559.8 655.9,560.2 654.4,560.2 652.3,559.9 649.6,559.2 646.8,558.2 643.9,557.1 641.4,555.9 639.5,554.8 638.4,553.9 638.1,553.2" fill="#f2f2f2" stroke="#000" stroke-width="2.23" stroke-linejoin="round" /><ellipse cx="652.5" cy="540" rx="9.8" ry="1.8" transform="rotate(20 652.5 540)" fill="#f2f2f2" stroke="#000" stroke-width="3.13"/><polyline points="656.7,559 656.3,559.2 655.5,559.3 654.4,559.2 653.1,559 651.5,558.6 649.8,558.1 648,557.6 646.2,556.9 644.4,556.2 642.8,555.5 641.4,554.7 640.2,554 639.2,553.4 638.6,552.8 638.4,552.4 638.5,552" fill="none" stroke="#000" stroke-width="2.56" stroke-linejoin="round"/></g>
<g transform="translate(-405.1 -26.3)"><polygon points="746.1,228 746.4,227.5 747.2,227.3 748.3,227.2 749.5,227.4 750.8,227.8 752.1,228.3 753.2,229 754,229.7 754.5,230.4 754.5,231 751,242 750.7,242.5 749.9,242.7 748.8,242.8 747.6,242.6 746.3,242.2 745,241.7 743.9,241 743.1,240.3 742.6,239.6 742.6,239" fill="#f2f2f2" stroke="#000" stroke-width="1.1" stroke-linejoin="round" /><polyline points="754.5,231 754.2,231.5 753.4,231.7 752.3,231.8 751.1,231.6 749.8,231.2 748.5,230.7 747.4,230 746.6,229.3 746.1,228.6 746.1,228" fill="none" stroke="#000" stroke-width="1.1"/><ellipse cx="750.3" cy="229.5" rx="4.5" ry="1.2" transform="rotate(20 750.3 229.5)" fill="#f2f2f2" stroke="#000" stroke-width="1.8"/><polygon points="741.6,239.3 741.9,239 742.7,238.8 743.8,238.8 745.1,239.1 746.6,239.5 748.1,240.1 749.3,240.8 750.3,241.5 750.9,242.1 751,242.7 749.8,248.2 749.5,248.5 748.7,248.7 747.6,248.7 746.3,248.4 744.8,248 743.3,247.4 742.1,246.7 741.1,246 740.5,245.4 740.4,244.8" fill="#f2f2f2" stroke="#000" stroke-width="1.1" stroke-linejoin="round" /><polyline points="751,242.7 750.7,243 749.9,243.2 748.8,243.2 747.5,242.9 746,242.5 744.5,241.9 743.3,241.2 742.3,240.5 741.7,239.9 741.6,239.3" fill="none" stroke="#000" stroke-width="1.1"/><line x1="746.5" y1="241.5" x2="745.2" y2="247" stroke="#000" stroke-width="0.8"/></g>
<ellipse cx="335.3" cy="114.2" rx="4" ry="0.8" transform="rotate(25 335.3 114.2)" fill="#000" stroke="#000" stroke-width="1.7"/>
<ellipse cx="341" cy="119.9" rx="4" ry="0.8" transform="rotate(25 341 119.9)" fill="#000" stroke="#000" stroke-width="1.7"/>
<ellipse cx="347" cy="118.4" rx="4" ry="0.8" transform="rotate(25 347 118.4)" fill="#000" stroke="#000" stroke-width="1.7"/>
<ellipse cx="343.8" cy="126.4" rx="5.8" ry="1.8" transform="rotate(14 343.8 126.4)" fill="#f2f2f2" stroke="#000" stroke-width="1.4"/>
<ellipse cx="343.8" cy="126.3" rx="3.2" ry="0.4" transform="rotate(14 343.8 126.3)" fill="#f2f2f2" stroke="#000" stroke-width="1.2"/>
<line x1="297.2" y1="54.4" x2="327.6" y2="102.9" stroke="#000" stroke-width="1.1"/><polygon points="332.2,110.3 329.9,98.7 327.6,102.9 322.8,103.2" fill="#000"/>
<line x1="247.8" y1="69.2" x2="327.7" y2="118.8" stroke="#000" stroke-width="1.1"/><polygon points="335.1,123.4 328,114 327.7,118.8 323.5,121.2" fill="#000"/>
<line x1="215.8" y1="88.5" x2="295.8" y2="124.4" stroke="#000" stroke-width="1.1"/><polygon points="303.7,128 295.4,119.7 295.8,124.4 291.9,127.3" fill="#000"/>
<line x1="184.6" y1="113.8" x2="294.8" y2="142.4" stroke="#000" stroke-width="1.1"/><polygon points="303.2,144.6 293.6,137.8 294.8,142.4 291.5,145.9" fill="#000"/>
<line x1="415.9" y1="76" x2="357.2" y2="150.4" stroke="#000" stroke-width="1.1"/><polygon points="351.8,157.2 361.9,151.2 357.2,150.4 355.3,146" fill="#000"/>
<line x1="454.4" y1="99.9" x2="379.7" y2="147.9" stroke="#000" stroke-width="1.1"/><polygon points="372.4,152.6 383.9,150.2 379.7,147.9 379.4,143.1" fill="#000"/>
<line x1="231.4" y1="167.3" x2="296.3" y2="175.1" stroke="#000" stroke-width="1.1"/><polygon points="304.9,176.1 294.5,170.6 296.3,175.1 293.5,179" fill="#000"/>
<line x1="141.6" y1="178.3" x2="266.6" y2="212.7" stroke="#000" stroke-width="1.1"/><polygon points="275,215 265.5,208 266.6,212.7 263.3,216.1" fill="#000"/>
<line x1="129.3" y1="214.7" x2="256.7" y2="231.7" stroke="#000" stroke-width="1.1"/><polygon points="265.3,232.9 255,227.3 256.7,231.7 253.8,235.6" fill="#000"/>
<line x1="431.1" y1="249.4" x2="355.6" y2="221.1" stroke="#000" stroke-width="1.1"/><polygon points="347.5,218.1 356.3,225.9 355.6,221.1 359.3,218" fill="#000"/>
<line x1="123" y1="251" x2="266.3" y2="283.6" stroke="#000" stroke-width="1.1"/><polygon points="274.8,285.5 265,279 266.3,283.6 263.1,287.2" fill="#000"/>
<line x1="123.4" y1="284.7" x2="261.1" y2="303.3" stroke="#000" stroke-width="1.1"/><polygon points="269.7,304.5 259.4,298.9 261.1,303.3 258.2,307.2" fill="#000"/>
<line x1="137.4" y1="319.9" x2="233.8" y2="330.3" stroke="#000" stroke-width="1.1"/><polygon points="242.5,331.2 232,325.8 233.8,330.3 231.1,334.2" fill="#000"/>
<line x1="146.3" y1="347" x2="243.9" y2="338.4" stroke="#000" stroke-width="1.1"/><polygon points="252.6,337.6 241.3,334.4 243.9,338.4 242,342.8" fill="#000"/>
<line x1="359.1" y1="356.3" x2="302.2" y2="352.1" stroke="#000" stroke-width="1.1"/><polygon points="293.5,351.5 304.2,356.5 302.2,352.1 304.8,348.1" fill="#000"/>
<line x1="333" y1="387.1" x2="280.4" y2="355.9" stroke="#000" stroke-width="1.1"/><polygon points="272.9,351.5 280.2,360.7 280.4,355.9 284.5,353.5" fill="#000"/>
<line x1="299.8" y1="397.3" x2="275" y2="364.8" stroke="#000" stroke-width="1.1"/><polygon points="269.7,357.9 273,369.2 275,364.8 279.7,364.1" fill="#000"/>
<line x1="401.8" y1="445" x2="346.3" y2="439.5" stroke="#000" stroke-width="1.1"/><polygon points="337.6,438.6 348.1,443.9 346.3,439.5 349,435.5" fill="#000"/>
<line x1="384.1" y1="474.7" x2="310" y2="462.2" stroke="#000" stroke-width="1.1"/><polygon points="301.4,460.7 311.5,466.7 310,462.2 312.9,458.4" fill="#000"/>
<line x1="80.2" y1="564.5" x2="170.7" y2="509.9" stroke="#000" stroke-width="1.1"/><polygon points="178.2,505.4 166.6,507.5 170.7,509.9 170.9,514.7" fill="#000"/>
<line x1="295.1" y1="607.3" x2="197.6" y2="599" stroke="#000" stroke-width="1.1"/><polygon points="188.9,598.3 199.5,603.4 197.6,599 200.2,595" fill="#000"/>
<line x1="256.2" y1="739.5" x2="159.2" y2="732.4" stroke="#000" stroke-width="1.1"/><polygon points="150.5,731.8 161.2,736.8 159.2,732.4 161.8,728.4" fill="#000"/>
<line x1="757.3" y1="41.3" x2="735.2" y2="102.6" stroke="#000" stroke-width="1.1"/><polygon points="732.2,110.8 739.9,101.9 735.2,102.6 732,99" fill="#000"/>
<line x1="759.4" y1="41.9" x2="745.9" y2="113.2" stroke="#000" stroke-width="1.1"/><polygon points="744.3,121.7 750.5,111.7 745.9,113.2 742.2,110.1" fill="#000"/>
<line x1="761.4" y1="42.1" x2="759" y2="111.7" stroke="#000" stroke-width="1.1"/><polygon points="758.7,120.4 763.3,109.5 759,111.7 754.9,109.3" fill="#000"/>
<line x1="648.2" y1="96.2" x2="728.6" y2="131" stroke="#000" stroke-width="1.1"/><polygon points="736.6,134.4 728.2,126.2 728.6,131 724.8,133.9" fill="#000"/>
<line x1="818.6" y1="123.1" x2="767.4" y2="201.5" stroke="#000" stroke-width="1.1"/><polygon points="762.6,208.8 772.1,201.9 767.4,201.5 765.1,197.3" fill="#000"/>
<line x1="886.9" y1="146.1" x2="812.5" y2="194" stroke="#000" stroke-width="1.1"/><polygon points="805.2,198.7 816.7,196.3 812.5,194 812.2,189.2" fill="#000"/>
<line x1="612.2" y1="209.3" x2="659.9" y2="195.9" stroke="#000" stroke-width="1.1"/><polygon points="668.3,193.6 656.6,192.5 659.9,195.9 658.8,200.6" fill="#000"/>
<line x1="612.7" y1="212" x2="689.1" y2="206.8" stroke="#000" stroke-width="1.1"/><polygon points="697.8,206.2 686.5,202.8 689.1,206.8 687.1,211.1" fill="#000"/>
<line x1="612.7" y1="213.4" x2="738.3" y2="217.7" stroke="#000" stroke-width="1.1"/><polygon points="747,218 736.2,213.4 738.3,217.7 735.9,221.8" fill="#000"/>
<line x1="845.8" y1="283.5" x2="806.9" y2="253.9" stroke="#000" stroke-width="1.1"/><polygon points="800,248.6 806.2,258.6 806.9,253.9 811.3,251.9" fill="#000"/>
<line x1="822.7" y1="317.5" x2="758.7" y2="246.1" stroke="#000" stroke-width="1.1"/><polygon points="752.9,239.6 757.1,250.6 758.7,246.1 763.4,245" fill="#000"/>
<line x1="599.5" y1="251.4" x2="658.4" y2="253.8" stroke="#000" stroke-width="1.1"/><polygon points="667.1,254.2 656.3,249.6 658.4,253.8 655.9,257.9" fill="#000"/>
<line x1="611.7" y1="275.1" x2="657.3" y2="266.1" stroke="#000" stroke-width="1.1"/><polygon points="665.8,264.4 654.2,262.4 657.3,266.1 655.8,270.7" fill="#000"/>
<line x1="612" y1="277.5" x2="671.2" y2="276.5" stroke="#000" stroke-width="1.1"/><polygon points="679.9,276.4 668.8,272.4 671.2,276.5 669,280.8" fill="#000"/>
<line x1="747.5" y1="278" x2="718.4" y2="264.3" stroke="#000" stroke-width="1.1"/><polygon points="710.5,260.6 718.7,269.1 718.4,264.3 722.2,261.5" fill="#000"/>
<line x1="699.2" y1="303.8" x2="691.9" y2="270.4" stroke="#000" stroke-width="1.1"/><polygon points="690,261.9 688.3,273.5 691.9,270.4 696.5,271.7" fill="#000"/>
<line x1="745.9" y1="310.7" x2="713.2" y2="282.8" stroke="#000" stroke-width="1.1"/><polygon points="706.6,277.2 712.2,287.5 713.2,282.8 717.7,281.1" fill="#000"/>
<line x1="598.8" y1="393.5" x2="618.3" y2="337.7" stroke="#000" stroke-width="1.1"/><polygon points="621.2,329.5 613.6,338.5 618.3,337.7 621.5,341.3" fill="#000"/>
<line x1="604.6" y1="397.6" x2="651.5" y2="359.2" stroke="#000" stroke-width="1.1"/><polygon points="658.2,353.7 647,357.4 651.5,359.2 652.4,363.9" fill="#000"/>
<line x1="606.6" y1="401" x2="702.4" y2="362.1" stroke="#000" stroke-width="1.1"/><polygon points="710.5,358.8 698.7,359.1 702.4,362.1 701.9,366.8" fill="#000"/>
<line x1="607.4" y1="403.7" x2="737.6" y2="380.7" stroke="#000" stroke-width="1.1"/><polygon points="746.2,379.2 734.6,377 737.6,380.7 736.1,385.2" fill="#000"/>
<line x1="772.1" y1="441.9" x2="731.4" y2="412.1" stroke="#000" stroke-width="1.1"/><polygon points="724.4,407 730.8,416.9 731.4,412.1 735.8,410.1" fill="#000"/>
<line x1="531.4" y1="440.6" x2="608" y2="459.3" stroke="#000" stroke-width="1.1"/><polygon points="616.5,461.4 606.8,454.7 608,459.3 604.8,462.9" fill="#000"/>
<line x1="516.7" y1="472.8" x2="593.7" y2="493.6" stroke="#000" stroke-width="1.1"/><polygon points="602.1,495.9 592.6,489 593.7,493.6 590.4,497.1" fill="#000"/>
<line x1="465.8" y1="509.3" x2="544.3" y2="529.4" stroke="#000" stroke-width="1.1"/><polygon points="552.7,531.6 543.1,524.8 544.3,529.4 541,532.9" fill="#000"/>
<line x1="477.8" y1="537.5" x2="555.5" y2="558.1" stroke="#000" stroke-width="1.1"/><polygon points="563.9,560.3 554.3,553.4 555.5,558.1 552.2,561.5" fill="#000"/>
<line x1="498" y1="575.4" x2="561.6" y2="576.6" stroke="#000" stroke-width="1.1"/><polygon points="570.3,576.8 559.4,572.4 561.6,576.6 559.2,580.8" fill="#000"/>
<line x1="696.7" y1="611.3" x2="657" y2="582" stroke="#000" stroke-width="1.1"/><polygon points="650,576.8 656.3,586.7 657,582 661.3,580" fill="#000"/>
<line x1="642.5" y1="644" x2="602.8" y2="614.9" stroke="#000" stroke-width="1.1"/><polygon points="595.8,609.7 602.2,619.6 602.8,614.9 607.2,612.8" fill="#000"/>
<circle cx="290.2" cy="43.2" r="13.2" fill="#fff" stroke="#000" stroke-width="1.1"/><text x="290.2" y="49.7" text-anchor="middle" font-family="Liberation Sans, sans-serif" font-size="16.5" fill="#000">24</text>
<circle cx="236.6" cy="62.2" r="13.2" fill="#fff" stroke="#000" stroke-width="1.1"/><text x="236.6" y="68.8" text-anchor="middle" font-family="Liberation Sans, sans-serif" font-size="16.5" fill="#000">49</text>
<circle cx="203.8" cy="83.1" r="13.2" fill="#fff" stroke="#000" stroke-width="1.1"/><text x="203.8" y="89.6" text-anchor="middle" font-family="Liberation Sans, sans-serif" font-size="16.5" fill="#000">2</text>
<circle cx="171.8" cy="110.5" r="13.2" fill="#fff" stroke="#000" stroke-width="1.1"/><text x="171.8" y="117" text-anchor="middle" font-family="Liberation Sans, sans-serif" font-size="16.5" fill="#000">40</text>
<circle cx="424.1" cy="65.6" r="13.2" fill="#fff" stroke="#000" stroke-width="1.1"/><text x="424.1" y="72.1" text-anchor="middle" font-family="Liberation Sans, sans-serif" font-size="16.5" fill="#000">23</text>
<circle cx="465.5" cy="92.8" r="13.2" fill="#fff" stroke="#000" stroke-width="1.1"/><text x="465.5" y="99.3" text-anchor="middle" font-family="Liberation Sans, sans-serif" font-size="16.5" fill="#000">15</text>
<circle cx="218.3" cy="165.7" r="13.2" fill="#fff" stroke="#000" stroke-width="1.1"/><text x="218.3" y="172.2" text-anchor="middle" font-family="Liberation Sans, sans-serif" font-size="16.5" fill="#000">22</text>
<circle cx="128.9" cy="174.8" r="13.2" fill="#fff" stroke="#000" stroke-width="1.1"/><text x="128.9" y="181.3" text-anchor="middle" font-family="Liberation Sans, sans-serif" font-size="16.5" fill="#000">20</text>
<circle cx="116.2" cy="213" r="13.2" fill="#fff" stroke="#000" stroke-width="1.1"/><text x="116.2" y="219.5" text-anchor="middle" font-family="Liberation Sans, sans-serif" font-size="16.5" fill="#000">3</text>
<circle cx="443.5" cy="254" r="13.2" fill="#fff" stroke="#000" stroke-width="1.1"/><text x="443.5" y="260.5" text-anchor="middle" font-family="Liberation Sans, sans-serif" font-size="16.5" fill="#000">48</text>
<circle cx="110.1" cy="248.1" r="13.2" fill="#fff" stroke="#000" stroke-width="1.1"/><text x="110.1" y="254.6" text-anchor="middle" font-family="Liberation Sans, sans-serif" font-size="16.5" fill="#000">51</text>
<circle cx="110.3" cy="282.9" r="13.2" fill="#fff" stroke="#000" stroke-width="1.1"/><text x="110.3" y="289.4" text-anchor="middle" font-family="Liberation Sans, sans-serif" font-size="16.5" fill="#000">54</text>
<circle cx="124.3" cy="318.5" r="13.2" fill="#fff" stroke="#000" stroke-width="1.1"/><text x="124.3" y="325" text-anchor="middle" font-family="Liberation Sans, sans-serif" font-size="16.5" fill="#000">16</text>
<circle cx="133.2" cy="348.2" r="13.2" fill="#fff" stroke="#000" stroke-width="1.1"/><text x="133.2" y="354.7" text-anchor="middle" font-family="Liberation Sans, sans-serif" font-size="16.5" fill="#000">16</text>
<circle cx="372.3" cy="357.3" r="13.2" fill="#fff" stroke="#000" stroke-width="1.1"/><text x="372.3" y="363.8" text-anchor="middle" font-family="Liberation Sans, sans-serif" font-size="16.5" fill="#000">7</text>
<circle cx="344.4" cy="393.8" r="13.2" fill="#fff" stroke="#000" stroke-width="1.1"/><text x="344.4" y="400.3" text-anchor="middle" font-family="Liberation Sans, sans-serif" font-size="16.5" fill="#000">53</text>
<circle cx="307.8" cy="407.8" r="13.2" fill="#fff" stroke="#000" stroke-width="1.1"/><text x="307.8" y="414.3" text-anchor="middle" font-family="Liberation Sans, sans-serif" font-size="16.5" fill="#000">52</text>
<circle cx="414.9" cy="446.3" r="13.2" fill="#fff" stroke="#000" stroke-width="1.1"/><text x="414.9" y="452.8" text-anchor="middle" font-family="Liberation Sans, sans-serif" font-size="16.5" fill="#000">26</text>
<circle cx="397.1" cy="476.9" r="13.2" fill="#fff" stroke="#000" stroke-width="1.1"/><text x="397.1" y="483.4" text-anchor="middle" font-family="Liberation Sans, sans-serif" font-size="16.5" fill="#000">25</text>
<circle cx="68.9" cy="571.3" r="13.2" fill="#fff" stroke="#000" stroke-width="1.1"/><text x="68.9" y="577.8" text-anchor="middle" font-family="Liberation Sans, sans-serif" font-size="16.5" fill="#000">18</text>
<circle cx="308.3" cy="608.4" r="13.2" fill="#fff" stroke="#000" stroke-width="1.1"/><text x="308.3" y="614.9" text-anchor="middle" font-family="Liberation Sans, sans-serif" font-size="16.5" fill="#000">13</text>
<circle cx="269.4" cy="740.5" r="13.2" fill="#fff" stroke="#000" stroke-width="1.1"/><text x="269.4" y="747" text-anchor="middle" font-family="Liberation Sans, sans-serif" font-size="16.5" fill="#000">39</text>
<circle cx="761.8" cy="28.9" r="13.2" fill="#fff" stroke="#000" stroke-width="1.1"/><text x="761.8" y="35.4" text-anchor="middle" font-family="Liberation Sans, sans-serif" font-size="16.5" fill="#000">24</text>
<circle cx="636.1" cy="91" r="13.2" fill="#fff" stroke="#000" stroke-width="1.1"/><text x="636.1" y="97.5" text-anchor="middle" font-family="Liberation Sans, sans-serif" font-size="16.5" fill="#000">49</text>
<circle cx="825.8" cy="112" r="13.2" fill="#fff" stroke="#000" stroke-width="1.1"/><text x="825.8" y="118.5" text-anchor="middle" font-family="Liberation Sans, sans-serif" font-size="16.5" fill="#000">23</text>
<circle cx="898" cy="139" r="13.2" fill="#fff" stroke="#000" stroke-width="1.1"/><text x="898" y="145.5" text-anchor="middle" font-family="Liberation Sans, sans-serif" font-size="16.5" fill="#000">15</text>
<circle cx="599.5" cy="212.9" r="13.2" fill="#fff" stroke="#000" stroke-width="1.1"/><text x="599.5" y="219.4" text-anchor="middle" font-family="Liberation Sans, sans-serif" font-size="16.5" fill="#000">40</text>
<circle cx="856.3" cy="291.5" r="13.2" fill="#fff" stroke="#000" stroke-width="1.1"/><text x="856.3" y="298" text-anchor="middle" font-family="Liberation Sans, sans-serif" font-size="16.5" fill="#000">40</text>
<circle cx="831.5" cy="327.3" r="13.2" fill="#fff" stroke="#000" stroke-width="1.1"/><text x="831.5" y="333.8" text-anchor="middle" font-family="Liberation Sans, sans-serif" font-size="16.5" fill="#000">48</text>
<circle cx="586.3" cy="250.9" r="13.2" fill="#fff" stroke="#000" stroke-width="1.1"/><text x="586.3" y="257.4" text-anchor="middle" font-family="Liberation Sans, sans-serif" font-size="16.5" fill="#000">21</text>
<circle cx="598.8" cy="277.7" r="13.2" fill="#fff" stroke="#000" stroke-width="1.1"/><text x="598.8" y="284.2" text-anchor="middle" font-family="Liberation Sans, sans-serif" font-size="16.5" fill="#000">22</text>
<circle cx="759.4" cy="283.6" r="13.2" fill="#fff" stroke="#000" stroke-width="1.1"/><text x="759.4" y="290.1" text-anchor="middle" font-family="Liberation Sans, sans-serif" font-size="16.5" fill="#000">21</text>
<circle cx="702" cy="316.7" r="13.2" fill="#fff" stroke="#000" stroke-width="1.1"/><text x="702" y="323.2" text-anchor="middle" font-family="Liberation Sans, sans-serif" font-size="16.5" fill="#000">21</text>
<circle cx="755.9" cy="319.3" r="13.2" fill="#fff" stroke="#000" stroke-width="1.1"/><text x="755.9" y="325.8" text-anchor="middle" font-family="Liberation Sans, sans-serif" font-size="16.5" fill="#000">22</text>
<circle cx="594.4" cy="406" r="13.2" fill="#fff" stroke="#000" stroke-width="1.1"/><text x="594.4" y="412.5" text-anchor="middle" font-family="Liberation Sans, sans-serif" font-size="16.5" fill="#000">20</text>
<circle cx="782.8" cy="449.7" r="13.2" fill="#fff" stroke="#000" stroke-width="1.1"/><text x="782.8" y="456.2" text-anchor="middle" font-family="Liberation Sans, sans-serif" font-size="16.5" fill="#000">15</text>
<circle cx="518.6" cy="437.5" r="13.2" fill="#fff" stroke="#000" stroke-width="1.1"/><text x="518.6" y="444" text-anchor="middle" font-family="Liberation Sans, sans-serif" font-size="16.5" fill="#000">51</text>
<circle cx="504" cy="469.4" r="13.2" fill="#fff" stroke="#000" stroke-width="1.1"/><text x="504" y="475.9" text-anchor="middle" font-family="Liberation Sans, sans-serif" font-size="16.5" fill="#000">54</text>
<circle cx="453" cy="506" r="13.2" fill="#fff" stroke="#000" stroke-width="1.1"/><text x="453" y="512.5" text-anchor="middle" font-family="Liberation Sans, sans-serif" font-size="16.5" fill="#000">16</text>
<circle cx="465" cy="534.1" r="13.2" fill="#fff" stroke="#000" stroke-width="1.1"/><text x="465" y="540.6" text-anchor="middle" font-family="Liberation Sans, sans-serif" font-size="16.5" fill="#000">16</text>
<circle cx="484.8" cy="575.2" r="13.2" fill="#fff" stroke="#000" stroke-width="1.1"/><text x="484.8" y="581.7" text-anchor="middle" font-family="Liberation Sans, sans-serif" font-size="16.5" fill="#000">53</text>
<circle cx="707.3" cy="619.2" r="13.2" fill="#fff" stroke="#000" stroke-width="1.1"/><text x="707.3" y="625.7" text-anchor="middle" font-family="Liberation Sans, sans-serif" font-size="16.5" fill="#000">7</text>
<circle cx="653.1" cy="651.8" r="13.2" fill="#fff" stroke="#000" stroke-width="1.1"/><text x="653.1" y="658.3" text-anchor="middle" font-family="Liberation Sans, sans-serif" font-size="16.5" fill="#000">52</text>
<circle cx="191.7" cy="161.4" r="13.2" fill="#fff" stroke="#000" stroke-width="1.1"/><text x="191.7" y="167.9" text-anchor="middle" font-family="Liberation Sans, sans-serif" font-size="16.5" fill="#000">21</text>
</svg>
</body></html>
